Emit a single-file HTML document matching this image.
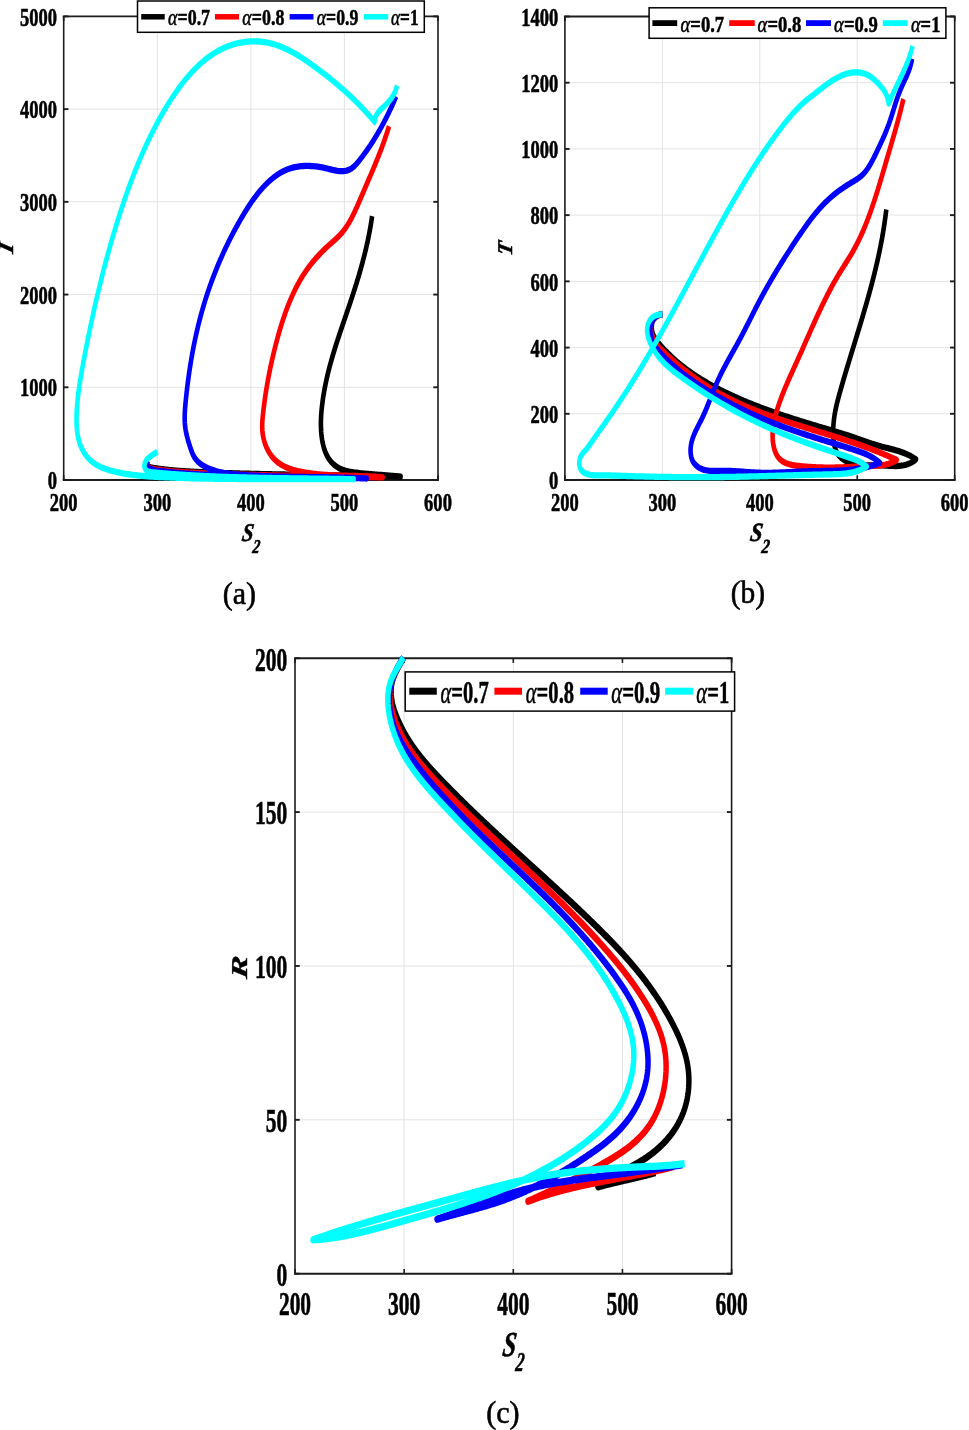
<!DOCTYPE html><html><head><meta charset="utf-8"><style>html,body{margin:0;padding:0;background:#fff;}svg{display:block;will-change:transform;}</style></head><body>
<svg width="969" height="1430" viewBox="0 0 969 1430">
<rect width="969" height="1430" fill="#fff"/>
<line x1="157.3" y1="16.4" x2="157.3" y2="480.0" stroke="#e3e3e3" stroke-width="1"/><line x1="250.9" y1="16.4" x2="250.9" y2="480.0" stroke="#e3e3e3" stroke-width="1"/><line x1="344.4" y1="16.4" x2="344.4" y2="480.0" stroke="#e3e3e3" stroke-width="1"/><line x1="63.7" y1="387.3" x2="438.0" y2="387.3" stroke="#e3e3e3" stroke-width="1"/><line x1="63.7" y1="294.6" x2="438.0" y2="294.6" stroke="#e3e3e3" stroke-width="1"/><line x1="63.7" y1="201.8" x2="438.0" y2="201.8" stroke="#e3e3e3" stroke-width="1"/><line x1="63.7" y1="109.1" x2="438.0" y2="109.1" stroke="#e3e3e3" stroke-width="1"/>
<line x1="63.70" y1="16.40" x2="438.00" y2="16.40" stroke="#1c1c1c" stroke-width="1.90" stroke-linecap="square"/><line x1="63.70" y1="480.00" x2="438.00" y2="480.00" stroke="#1c1c1c" stroke-width="1.90" stroke-linecap="square"/><line x1="63.70" y1="16.40" x2="63.70" y2="480.00" stroke="#1c1c1c" stroke-width="1.60"/><line x1="438.00" y1="16.40" x2="438.00" y2="480.00" stroke="#1c1c1c" stroke-width="1.60"/><line x1="63.70" y1="480.00" x2="63.70" y2="475.30" stroke="#1c1c1c" stroke-width="1.60"/><line x1="63.70" y1="16.40" x2="63.70" y2="21.10" stroke="#1c1c1c" stroke-width="1.60"/><line x1="157.28" y1="480.00" x2="157.28" y2="475.30" stroke="#1c1c1c" stroke-width="1.60"/><line x1="157.28" y1="16.40" x2="157.28" y2="21.10" stroke="#1c1c1c" stroke-width="1.60"/><line x1="250.85" y1="480.00" x2="250.85" y2="475.30" stroke="#1c1c1c" stroke-width="1.60"/><line x1="250.85" y1="16.40" x2="250.85" y2="21.10" stroke="#1c1c1c" stroke-width="1.60"/><line x1="344.43" y1="480.00" x2="344.43" y2="475.30" stroke="#1c1c1c" stroke-width="1.60"/><line x1="344.43" y1="16.40" x2="344.43" y2="21.10" stroke="#1c1c1c" stroke-width="1.60"/><line x1="438.00" y1="480.00" x2="438.00" y2="475.30" stroke="#1c1c1c" stroke-width="1.60"/><line x1="438.00" y1="16.40" x2="438.00" y2="21.10" stroke="#1c1c1c" stroke-width="1.60"/><line x1="63.70" y1="480.00" x2="68.40" y2="480.00" stroke="#1c1c1c" stroke-width="1.90"/><line x1="438.00" y1="480.00" x2="433.30" y2="480.00" stroke="#1c1c1c" stroke-width="1.90"/><line x1="63.70" y1="387.28" x2="68.40" y2="387.28" stroke="#1c1c1c" stroke-width="1.90"/><line x1="438.00" y1="387.28" x2="433.30" y2="387.28" stroke="#1c1c1c" stroke-width="1.90"/><line x1="63.70" y1="294.56" x2="68.40" y2="294.56" stroke="#1c1c1c" stroke-width="1.90"/><line x1="438.00" y1="294.56" x2="433.30" y2="294.56" stroke="#1c1c1c" stroke-width="1.90"/><line x1="63.70" y1="201.84" x2="68.40" y2="201.84" stroke="#1c1c1c" stroke-width="1.90"/><line x1="438.00" y1="201.84" x2="433.30" y2="201.84" stroke="#1c1c1c" stroke-width="1.90"/><line x1="63.70" y1="109.12" x2="68.40" y2="109.12" stroke="#1c1c1c" stroke-width="1.90"/><line x1="438.00" y1="109.12" x2="433.30" y2="109.12" stroke="#1c1c1c" stroke-width="1.90"/><line x1="63.70" y1="16.40" x2="68.40" y2="16.40" stroke="#1c1c1c" stroke-width="1.90"/><line x1="438.00" y1="16.40" x2="433.30" y2="16.40" stroke="#1c1c1c" stroke-width="1.90"/>
<g>
<path transform="scale(0.7300,1)" d="M203.03,460.19L201.55,461.70L200.52,463.50L200.69,465.05L202.17,466.11L204.36,466.82L206.63,467.31L208.74,467.68L210.72,467.96L212.66,468.19L214.60,468.40L216.58,468.61L218.57,468.82L220.58,469.02L222.58,469.22L224.59,469.40L226.60,469.58L228.60,469.75L230.61,469.91L232.62,470.06L234.63,470.21L236.64,470.35L238.65,470.48L240.66,470.61L242.67,470.73L244.68,470.85L246.69,470.96L248.70,471.06L250.72,471.16L252.73,471.26L254.74,471.35L256.76,471.44L258.77,471.52L260.78,471.60L262.80,471.68L264.81,471.76L266.82,471.83L268.84,471.90L270.85,471.97L272.87,472.04L274.88,472.10L276.89,472.17L278.91,472.23L280.92,472.30L282.94,472.36L284.95,472.42L286.96,472.48L288.98,472.54L290.99,472.60L293.01,472.65L295.02,472.71L297.03,472.77L299.05,472.82L301.06,472.87L303.08,472.93L305.09,472.98L307.10,473.03L309.12,473.08L311.13,473.13L313.15,473.18L315.16,473.22L317.17,473.27L319.19,473.32L321.20,473.36L323.22,473.41L325.23,473.45L327.24,473.49L329.26,473.54L331.27,473.58L333.29,473.62L335.30,473.66L337.31,473.70L339.33,473.74L341.34,473.77L343.36,473.81L345.37,473.85L347.38,473.88L349.40,473.92L351.41,473.95L353.42,473.99L355.44,474.02L357.45,474.06L359.47,474.09L361.48,474.12L363.49,474.15L365.51,474.18L367.52,474.21L369.53,474.24L371.55,474.27L373.56,474.30L375.58,474.33L377.59,474.36L379.60,474.39L381.62,474.42L383.63,474.44L385.64,474.47L387.66,474.50L389.67,474.52L391.69,474.55L393.70,474.58L395.71,474.60L397.73,474.63L399.74,474.65L401.75,474.67L403.77,474.70L405.78,474.72L407.80,474.75L409.81,474.77L411.82,474.79L413.84,474.82L415.85,474.84L417.86,474.86L419.88,474.88L421.89,474.91L423.91,474.93L425.92,474.95L427.93,474.97L429.95,475.00L431.96,475.02L433.97,475.04L435.99,475.06L438.00,475.08L440.02,475.10L442.03,475.13L444.04,475.15L446.06,475.17L448.07,475.19L450.08,475.21L452.10,475.24L454.11,475.26L456.13,475.28L458.14,475.30L460.15,475.32L462.17,475.35L464.18,475.37L466.19,475.39L468.21,475.41L470.22,475.44L472.24,475.46L474.25,475.48L476.26,475.51L478.28,475.53L480.29,475.55L482.31,475.58L484.32,475.60L486.33,475.63L488.35,475.65L490.36,475.68L492.37,475.70L494.39,475.73L496.40,475.76L498.42,475.78L500.43,475.81L502.44,475.84L504.46,475.87L506.47,475.89L508.49,475.92L510.50,475.95L512.51,475.98L514.53,476.01L516.54,476.04L518.56,476.07L520.57,476.10L522.58,476.13L524.60,476.17L526.61,476.20L528.63,476.23L530.64,476.27L532.65,476.30L534.67,476.34L536.68,476.37L538.70,476.41L540.71,476.45L542.72,476.48L544.74,476.52L546.75,476.56L548.77,476.60L546.72,476.46L544.68,476.31L542.65,476.18L540.62,476.05L538.61,475.92L536.59,475.80L534.59,475.68L532.59,475.57L530.59,475.46L528.59,475.35L526.60,475.24L524.61,475.13L522.62,475.02L520.63,474.92L518.65,474.81L516.66,474.70L514.67,474.59L512.67,474.47L510.68,474.36L508.68,474.24L506.68,474.12L504.67,473.99L502.66,473.86L500.64,473.72L498.61,473.57L496.58,473.42L494.54,473.27L492.49,473.10L490.43,472.93L488.36,472.75L486.28,472.55L484.20,472.34L482.12,472.11L480.04,471.85L477.97,471.55L475.91,471.21L473.86,470.82L471.84,470.38L469.84,469.88L467.87,469.31L465.94,468.67L464.04,467.95L462.18,467.15L460.37,466.27L458.61,465.30L456.92,464.25L455.29,463.13L453.74,461.92L452.27,460.62L450.88,459.25L449.58,457.80L448.38,456.27L447.27,454.66L446.24,452.99L445.30,451.26L444.44,449.48L443.66,447.64L442.96,445.76L442.33,443.85L441.77,441.90L441.29,439.92L440.87,437.92L440.51,435.91L440.22,433.88L439.99,431.85L439.81,429.82L439.69,427.78L439.62,425.74L439.59,423.70L439.62,421.66L439.69,419.62L439.80,417.58L439.95,415.54L440.14,413.51L440.36,411.48L440.62,409.45L440.90,407.43L441.21,405.42L441.55,403.41L441.90,401.41L442.28,399.42L442.68,397.43L443.11,395.45L443.55,393.48L444.01,391.52L444.49,389.56L445.00,387.61L445.52,385.66L446.05,383.72L446.61,381.79L447.18,379.86L447.77,377.94L448.37,376.02L449.00,374.11L449.63,372.21L450.28,370.31L450.95,368.41L451.62,366.52L452.31,364.63L453.02,362.75L453.73,360.87L454.46,358.99L455.20,357.12L455.95,355.25L456.71,353.39L457.48,351.53L458.26,349.67L459.04,347.81L459.84,345.96L460.64,344.11L461.45,342.26L462.27,340.42L463.09,338.57L463.92,336.73L464.75,334.89L465.59,333.05L466.43,331.22L467.28,329.38L468.13,327.55L468.98,325.71L469.84,323.88L470.69,322.05L471.55,320.22L472.41,318.39L473.27,316.55L474.13,314.72L474.99,312.89L475.84,311.06L476.70,309.23L477.55,307.39L478.40,305.56L479.25,303.72L480.09,301.89L480.93,300.05L481.77,298.21L482.60,296.37L483.42,294.52L484.24,292.68L485.06,290.83L485.87,288.98L486.67,287.13L487.47,285.28L488.26,283.42L489.04,281.57L489.82,279.71L490.59,277.84L491.35,275.98L492.10,274.11L492.85,272.24L493.59,270.36L494.32,268.49L495.04,266.60L495.75,264.72L496.45,262.83L497.14,260.94L497.82,259.04L498.49,257.15L499.15,255.24L499.80,253.34L500.44,251.42L501.07,249.51L501.68,247.59L502.29,245.66L502.88,243.74L503.46,241.80L504.02,239.86L504.58,237.92L505.12,235.97L505.64,234.02L506.15,232.06L506.65,230.10L507.14,228.13L507.61,226.16L508.06,224.18L508.50,222.19L508.92,220.20L509.33,218.20L509.72,216.20" fill="none" stroke="#000000" stroke-width="6.30" stroke-linejoin="round" stroke-linecap="butt"/>
<path transform="scale(0.7300,1)" d="M203.03,460.39L201.45,461.79L200.34,463.59L200.25,465.26L201.44,466.49L203.45,467.34L205.72,467.95L207.87,468.42L209.90,468.78L211.86,469.07L213.80,469.31L215.76,469.53L217.75,469.74L219.76,469.94L221.76,470.14L223.76,470.32L225.77,470.50L227.77,470.66L229.78,470.83L231.79,470.98L233.80,471.13L235.81,471.27L237.82,471.40L239.83,471.53L241.84,471.66L243.86,471.77L245.87,471.89L247.88,472.00L249.90,472.10L251.91,472.20L253.93,472.29L255.95,472.38L257.96,472.47L259.98,472.55L262.00,472.64L264.01,472.71L266.03,472.79L268.05,472.87L270.07,472.94L272.08,473.01L274.10,473.08L276.12,473.15L278.14,473.21L280.15,473.28L282.17,473.34L284.19,473.41L286.21,473.47L288.22,473.53L290.24,473.59L292.26,473.65L294.27,473.71L296.29,473.77L298.31,473.83L300.33,473.88L302.34,473.94L304.36,473.99L306.38,474.05L308.39,474.10L310.41,474.15L312.43,474.20L314.44,474.25L316.46,474.30L318.48,474.35L320.49,474.40L322.51,474.45L324.53,474.49L326.54,474.54L328.56,474.58L330.58,474.62L332.59,474.67L334.61,474.71L336.62,474.75L338.64,474.79L340.66,474.83L342.67,474.87L344.69,474.91L346.70,474.95L348.72,474.99L350.74,475.03L352.75,475.06L354.77,475.10L356.78,475.13L358.80,475.17L360.82,475.20L362.83,475.24L364.85,475.27L366.86,475.30L368.88,475.33L370.90,475.37L372.91,475.40L374.93,475.43L376.94,475.46L378.96,475.49L380.97,475.52L382.99,475.55L385.01,475.57L387.02,475.60L389.04,475.63L391.05,475.66L393.07,475.69L395.08,475.71L397.10,475.74L399.11,475.76L401.13,475.79L403.15,475.82L405.16,475.84L407.18,475.87L409.19,475.89L411.21,475.92L413.22,475.94L415.24,475.96L417.26,475.99L419.27,476.01L421.29,476.04L423.30,476.06L425.32,476.08L427.33,476.11L429.35,476.13L431.36,476.15L433.38,476.17L435.40,476.20L437.41,476.22L439.43,476.24L441.44,476.26L443.46,476.29L445.47,476.31L447.49,476.33L449.51,476.35L451.52,476.38L453.54,476.40L455.55,476.42L457.57,476.44L459.59,476.47L461.60,476.49L463.62,476.51L465.63,476.54L467.65,476.56L469.66,476.58L471.68,476.60L473.70,476.63L475.71,476.65L477.73,476.68L479.75,476.70L481.76,476.72L483.78,476.75L485.79,476.77L487.81,476.80L489.83,476.82L491.84,476.85L493.86,476.87L495.88,476.90L497.89,476.93L499.91,476.95L501.92,476.98L503.94,477.01L505.96,477.03L507.97,477.06L509.99,477.09L512.01,477.12L514.03,477.15L516.04,477.18L518.06,477.21L520.08,477.24L522.09,477.27L524.11,477.30L522.03,477.17L519.95,477.04L517.88,476.93L515.82,476.82L513.76,476.72L511.72,476.63L509.68,476.55L507.64,476.47L505.61,476.40L503.59,476.33L501.57,476.27L499.56,476.22L497.55,476.17L495.55,476.12L493.55,476.08L491.55,476.04L489.56,476.00L487.57,475.96L485.59,475.93L483.60,475.89L481.62,475.86L479.65,475.83L477.67,475.80L475.69,475.77L473.72,475.73L471.75,475.70L469.77,475.66L467.80,475.62L465.83,475.58L463.86,475.53L461.89,475.48L459.91,475.43L457.94,475.37L455.96,475.31L453.98,475.24L452.00,475.16L450.02,475.08L448.03,474.99L446.04,474.89L444.05,474.79L442.06,474.68L440.06,474.56L438.06,474.43L436.05,474.29L434.03,474.14L432.02,473.97L429.99,473.80L427.97,473.62L425.93,473.42L423.89,473.22L421.84,472.99L419.79,472.76L417.73,472.51L415.66,472.25L413.58,471.97L411.51,471.67L409.44,471.35L407.37,471.00L405.31,470.63L403.25,470.23L401.21,469.79L399.19,469.33L397.18,468.82L395.20,468.28L393.23,467.69L391.30,467.06L389.39,466.38L387.51,465.66L385.67,464.88L383.87,464.05L382.10,463.16L380.38,462.21L378.70,461.20L377.07,460.13L375.50,458.99L373.97,457.78L372.51,456.50L371.10,455.14L369.75,453.71L368.47,452.21L367.26,450.64L366.12,449.01L365.05,447.32L364.06,445.58L363.15,443.79L362.33,441.95L361.59,440.08L360.95,438.17L360.39,436.23L359.94,434.27L359.58,432.29L359.33,430.29L359.18,428.28L359.13,426.27L359.18,424.24L359.30,422.22L359.48,420.19L359.71,418.17L359.98,416.15L360.27,414.13L360.58,412.11L360.89,410.10L361.22,408.10L361.56,406.10L361.91,404.11L362.27,402.12L362.64,400.13L363.02,398.15L363.41,396.18L363.81,394.21L364.23,392.24L364.65,390.28L365.09,388.32L365.53,386.36L365.99,384.41L366.46,382.46L366.93,380.52L367.42,378.58L367.92,376.64L368.43,374.70L368.95,372.77L369.48,370.84L370.02,368.91L370.57,366.99L371.13,365.06L371.70,363.14L372.29,361.22L372.88,359.31L373.48,357.39L374.09,355.48L374.71,353.57L375.34,351.66L375.99,349.75L376.64,347.84L377.30,345.93L377.97,344.03L378.65,342.12L379.34,340.22L380.05,338.32L380.76,336.43L381.49,334.53L382.22,332.64L382.97,330.76L383.74,328.87L384.51,327.00L385.30,325.13L386.10,323.26L386.91,321.40L387.74,319.55L388.59,317.71L389.44,315.87L390.32,314.04L391.20,312.22L392.11,310.41L393.03,308.61L393.96,306.82L394.91,305.04L395.88,303.27L396.87,301.51L397.87,299.76L398.89,298.03L399.93,296.31L400.99,294.60L402.06,292.90L403.16,291.22L404.27,289.55L405.41,287.90L406.56,286.26L407.73,284.64L408.93,283.03L410.14,281.44L411.38,279.87L412.64,278.32L413.92,276.78L415.22,275.26L416.55,273.77L417.89,272.29L419.26,270.82L420.65,269.38L422.07,267.96L423.50,266.55L424.95,265.17L426.42,263.80L427.91,262.44L429.42,261.11L430.95,259.79L432.49,258.49L434.05,257.21L435.63,255.94L437.23,254.69L438.83,253.46L440.46,252.24L442.09,251.04L443.74,249.85L445.41,248.68L447.08,247.52L448.77,246.38L450.47,245.25L452.18,244.13L453.90,243.03L455.61,241.93L457.32,240.82L459.02,239.71L460.70,238.58L462.37,237.43L464.00,236.26L465.60,235.05L467.16,233.81L468.68,232.52L470.16,231.20L471.60,229.83L473.00,228.42L474.36,226.98L475.68,225.50L476.97,223.99L478.23,222.45L479.46,220.89L480.67,219.29L481.85,217.67L483.00,216.03L484.14,214.37L485.25,212.69L486.35,211.00L487.43,209.29L488.50,207.57L489.55,205.84L490.60,204.10L491.63,202.35L492.67,200.60L493.69,198.85L494.72,197.09L495.74,195.34L496.77,193.59L497.80,191.85L498.83,190.11L499.86,188.37L500.89,186.63L501.91,184.89L502.94,183.16L503.97,181.42L504.99,179.69L506.01,177.96L507.03,176.23L508.05,174.49L509.06,172.76L510.07,171.02L511.08,169.29L512.08,167.55L513.08,165.81L514.07,164.07L515.05,162.32L516.03,160.57L517.00,158.82L517.96,157.07L518.92,155.31L519.87,153.54L520.81,151.77L521.74,150.00L522.66,148.22L523.58,146.43L524.48,144.64L525.37,142.84L526.26,141.04L527.13,139.22L527.99,137.40L528.83,135.57L529.67,133.74L530.49,131.89L531.30,130.04L532.09,128.17L532.88,126.30" fill="none" stroke="#ff0000" stroke-width="6.30" stroke-linejoin="round" stroke-linecap="butt"/>
<path transform="scale(0.7300,1)" d="M203.03,460.59L201.43,461.91L200.20,463.70L199.87,465.46L200.79,466.82L202.62,467.80L204.86,468.52L207.06,469.12L209.12,469.61L211.08,470.03L213.02,470.36L214.98,470.63L216.98,470.83L218.99,471.01L221.01,471.18L223.02,471.34L225.04,471.51L227.06,471.66L229.08,471.82L231.10,471.97L233.11,472.12L235.13,472.26L237.15,472.41L239.17,472.55L241.19,472.68L243.21,472.81L245.23,472.94L247.25,473.07L249.27,473.19L251.29,473.31L253.31,473.43L255.33,473.54L257.35,473.66L259.37,473.77L261.39,473.87L263.41,473.98L265.43,474.08L267.45,474.17L269.47,474.27L271.49,474.36L273.51,474.45L275.54,474.54L277.56,474.63L279.58,474.71L281.60,474.79L283.62,474.87L285.64,474.95L287.67,475.02L289.69,475.09L291.71,475.16L293.73,475.23L295.76,475.30L297.78,475.36L299.80,475.42L301.82,475.48L303.85,475.54L305.87,475.60L307.89,475.65L309.92,475.71L311.94,475.76L313.96,475.81L315.99,475.85L318.01,475.90L320.03,475.94L322.06,475.99L324.08,476.03L326.11,476.07L328.13,476.10L330.15,476.14L332.18,476.18L334.20,476.21L336.23,476.24L338.25,476.28L340.27,476.31L342.30,476.34L344.32,476.37L346.35,476.39L348.37,476.42L350.40,476.44L352.42,476.47L354.45,476.49L356.47,476.52L358.49,476.54L360.52,476.56L362.54,476.58L364.57,476.60L366.59,476.62L368.62,476.64L370.64,476.65L372.67,476.67L374.69,476.69L376.72,476.70L378.74,476.72L380.77,476.74L382.79,476.75L384.82,476.77L386.84,476.78L388.87,476.80L390.89,476.81L392.92,476.82L394.94,476.84L396.97,476.85L398.99,476.87L401.02,476.88L403.04,476.89L405.07,476.91L407.09,476.92L409.12,476.94L411.14,476.95L413.17,476.97L415.19,476.98L417.21,477.00L419.24,477.01L421.26,477.03L423.29,477.05L425.31,477.07L427.34,477.08L429.36,477.10L431.39,477.12L433.41,477.14L435.43,477.16L437.46,477.18L439.48,477.21L441.51,477.23L443.53,477.25L445.55,477.28L447.58,477.30L449.60,477.33L451.63,477.36L453.65,477.39L455.67,477.42L457.70,477.45L459.72,477.48L461.74,477.51L463.77,477.55L465.79,477.58L467.81,477.62L469.84,477.66L471.86,477.70L473.88,477.74L475.91,477.78L477.93,477.83L479.95,477.88L481.97,477.92L484.00,477.97L486.02,478.03L488.04,478.08L490.06,478.13L492.08,478.19L494.11,478.25L496.13,478.31L498.15,478.37L500.17,478.44L502.19,478.50L500.18,478.43L498.17,478.36L496.16,478.29L494.14,478.23L492.13,478.17L490.12,478.11L488.11,478.05L486.10,478.00L484.09,477.94L482.08,477.89L480.08,477.85L478.07,477.80L476.06,477.76L474.05,477.72L472.05,477.68L470.04,477.64L468.03,477.60L466.03,477.57L464.02,477.53L462.02,477.50L460.01,477.47L458.01,477.44L456.00,477.41L454.00,477.39L451.99,477.36L449.99,477.33L447.99,477.31L445.98,477.29L443.98,477.27L441.98,477.24L439.97,477.22L437.97,477.20L435.97,477.18L433.97,477.16L431.96,477.14L429.96,477.12L427.96,477.10L425.96,477.09L423.96,477.07L421.95,477.05L419.95,477.03L417.95,477.01L415.95,476.99L413.95,476.97L411.94,476.95L409.94,476.93L407.94,476.91L405.94,476.89L403.94,476.86L401.93,476.84L399.93,476.81L397.93,476.79L395.93,476.76L393.92,476.73L391.92,476.70L389.92,476.67L387.92,476.64L385.91,476.61L383.91,476.57L381.91,476.54L379.90,476.50L377.90,476.46L375.90,476.42L373.89,476.38L371.89,476.33L369.88,476.28L367.88,476.23L365.87,476.18L363.87,476.13L361.86,476.07L359.86,476.01L357.85,475.95L355.84,475.89L353.84,475.82L351.83,475.75L349.82,475.68L347.81,475.60L345.81,475.53L343.80,475.44L341.79,475.36L339.78,475.27L337.77,475.18L335.76,475.09L333.75,474.99L331.73,474.89L329.72,474.79L327.71,474.68L325.70,474.57L323.68,474.45L321.67,474.32L319.66,474.18L317.65,474.03L315.65,473.87L313.64,473.69L311.64,473.49L309.64,473.28L307.64,473.04L305.65,472.78L303.66,472.50L301.68,472.19L299.70,471.85L297.73,471.48L295.77,471.08L293.81,470.64L291.86,470.17L289.91,469.66L287.98,469.12L286.05,468.53L284.13,467.90L282.22,467.22L280.33,466.49L278.46,465.71L276.64,464.86L274.86,463.95L273.13,462.95L271.48,461.87L269.91,460.71L268.42,459.44L267.04,458.07L265.76,456.59L264.61,455.00L263.56,453.30L262.60,451.52L261.70,449.69L260.83,447.83L259.98,445.97L259.16,444.09L258.37,442.21L257.61,440.32L256.89,438.42L256.20,436.53L255.56,434.62L254.98,432.72L254.47,430.80L254.03,428.87L253.67,426.93L253.40,424.99L253.20,423.03L253.07,421.06L253.00,419.08L252.99,417.10L253.04,415.11L253.14,413.12L253.27,411.12L253.45,409.12L253.65,407.11L253.89,405.11L254.14,403.10L254.41,401.09L254.69,399.09L254.98,397.08L255.27,395.08L255.58,393.08L255.89,391.08L256.21,389.08L256.54,387.08L256.87,385.09L257.22,383.10L257.57,381.10L257.93,379.12L258.30,377.13L258.68,375.15L259.07,373.16L259.47,371.19L259.87,369.21L260.29,367.23L260.71,365.26L261.14,363.30L261.58,361.33L262.03,359.37L262.49,357.41L262.96,355.45L263.44,353.50L263.93,351.55L264.43,349.60L264.94,347.65L265.46,345.71L265.99,343.78L266.53,341.84L267.08,339.92L267.63,337.99L268.20,336.07L268.78,334.15L269.37,332.24L269.97,330.33L270.59,328.42L271.21,326.52L271.84,324.62L272.49,322.73L273.14,320.84L273.81,318.96L274.48,317.08L275.17,315.20L275.87,313.33L276.58,311.47L277.30,309.61L278.04,307.75L278.78,305.90L279.54,304.05L280.30,302.21L281.08,300.37L281.87,298.54L282.67,296.72L283.48,294.89L284.30,293.08L285.13,291.26L285.97,289.46L286.83,287.65L287.69,285.85L288.56,284.06L289.45,282.27L290.35,280.49L291.25,278.71L292.17,276.94L293.10,275.17L294.04,273.41L294.98,271.65L295.94,269.89L296.91,268.14L297.89,266.40L298.88,264.66L299.88,262.93L300.90,261.20L301.92,259.48L302.95,257.76L303.99,256.04L305.04,254.34L306.11,252.63L307.18,250.93L308.26,249.24L309.35,247.55L310.46,245.87L311.57,244.19L312.69,242.52L313.82,240.85L314.97,239.19L316.12,237.53L317.28,235.88L318.45,234.23L319.63,232.59L320.83,230.96L322.03,229.33L323.24,227.70L324.46,226.08L325.69,224.47L326.93,222.86L328.18,221.25L329.44,219.65L330.71,218.06L331.99,216.47L333.28,214.89L334.57,213.32L335.89,211.76L337.21,210.22L338.54,208.68L339.88,207.15L341.24,205.64L342.61,204.14L343.99,202.66L345.38,201.19L346.79,199.74L348.21,198.31L349.64,196.90L351.09,195.50L352.55,194.13L354.02,192.78L355.51,191.45L357.01,190.15L358.53,188.87L360.07,187.61L361.62,186.38L363.18,185.18L364.76,184.01L366.36,182.86L367.98,181.74L369.61,180.66L371.25,179.61L372.92,178.59L374.60,177.60L376.30,176.65L378.02,175.73L379.76,174.85L381.52,174.01L383.29,173.20L385.09,172.43L386.90,171.71L388.74,171.02L390.59,170.38L392.46,169.78L394.36,169.22L396.27,168.71L398.21,168.24L400.17,167.82L402.14,167.44L404.14,167.11L406.15,166.82L408.18,166.57L410.22,166.37L412.27,166.20L414.33,166.07L416.40,165.98L418.47,165.93L420.55,165.91L422.64,165.93L424.72,165.98L426.80,166.06L428.88,166.17L430.96,166.31L433.03,166.48L435.10,166.68L437.16,166.90L439.20,167.15L441.24,167.42L443.26,167.72L445.26,168.03L447.25,168.37L449.22,168.73L451.17,169.10L453.11,169.46L455.05,169.82L456.98,170.16L458.91,170.46L460.85,170.73L462.80,170.95L464.76,171.10L466.74,171.18L468.74,171.18L470.74,171.09L472.75,170.90L474.73,170.60L476.69,170.18L478.60,169.62L480.45,168.92L482.24,168.08L483.95,167.10L485.61,166.00L487.21,164.81L488.78,163.53L490.31,162.21L491.81,160.84L493.30,159.46L494.78,158.06L496.24,156.66L497.69,155.25L499.13,153.82L500.55,152.39L501.96,150.94L503.35,149.49L504.74,148.02L506.10,146.55L507.46,145.07L508.81,143.57L510.14,142.07L511.46,140.56L512.76,139.04L514.06,137.50L515.34,135.96L516.61,134.41L517.87,132.86L519.11,131.29L520.35,129.71L521.57,128.13L522.78,126.53L523.97,124.93L525.16,123.32L526.33,121.69L527.50,120.07L528.65,118.43L529.79,116.78L530.92,115.13L532.03,113.46L533.14,111.79L534.23,110.12L535.32,108.43L536.39,106.73L537.45,105.03L538.50,103.32L539.54,101.60L540.57,99.88L541.59,98.14L542.60,96.40" fill="none" stroke="#0000ff" stroke-width="6.30" stroke-linejoin="round" stroke-linecap="butt"/>
<path transform="scale(0.7300,1)" d="M215.62,451.30L214.11,452.34L212.42,453.28L210.60,454.17L208.71,455.05L206.79,455.96L204.91,456.95L203.11,458.06L201.45,459.33L199.98,460.80L198.77,462.51L197.96,464.40L197.75,466.33L198.33,468.13L199.55,469.68L201.19,470.84L203.08,471.57L205.13,471.98L207.26,472.21L209.38,472.36L211.47,472.51L213.52,472.66L215.55,472.80L217.56,472.93L219.56,473.06L221.57,473.19L223.57,473.32L225.58,473.44L227.58,473.56L229.59,473.68L231.60,473.80L233.60,473.91L235.61,474.03L237.62,474.14L239.63,474.25L241.64,474.35L243.65,474.46L245.66,474.56L247.68,474.66L249.69,474.76L251.70,474.86L253.71,474.96L255.73,475.05L257.74,475.14L259.76,475.23L261.77,475.32L263.79,475.40L265.80,475.49L267.82,475.57L269.84,475.65L271.85,475.73L273.87,475.81L275.89,475.88L277.91,475.96L279.93,476.03L281.95,476.10L283.97,476.17L285.99,476.24L288.01,476.31L290.03,476.37L292.05,476.43L294.07,476.50L296.09,476.56L298.12,476.62L300.14,476.67L302.16,476.73L304.18,476.79L306.21,476.84L308.23,476.89L310.25,476.94L312.28,476.99L314.30,477.04L316.33,477.09L318.35,477.14L320.38,477.18L322.40,477.23L324.43,477.27L326.45,477.31L328.48,477.35L330.51,477.39L332.53,477.43L334.56,477.47L336.59,477.51L338.61,477.54L340.64,477.58L342.67,477.61L344.69,477.64L346.72,477.68L348.75,477.71L350.78,477.74L352.80,477.77L354.83,477.80L356.86,477.83L358.89,477.86L360.91,477.88L362.94,477.91L364.97,477.94L367.00,477.96L369.03,477.99L371.05,478.01L373.08,478.04L375.11,478.06L377.14,478.08L379.16,478.10L381.19,478.13L383.22,478.15L385.25,478.17L387.28,478.19L389.30,478.21L391.33,478.23L393.36,478.25L395.39,478.27L397.41,478.29L399.44,478.31L401.47,478.33L403.50,478.34L405.52,478.36L407.55,478.38L409.58,478.40L411.60,478.42L413.63,478.44L415.65,478.45L417.68,478.47L419.71,478.49L421.73,478.51L423.76,478.53L425.78,478.54L427.81,478.56L429.83,478.58L431.86,478.60L433.88,478.62L435.90,478.64L437.93,478.65L439.95,478.67L441.97,478.69L444.00,478.71L446.02,478.73L448.04,478.75L450.06,478.77L452.09,478.79L454.11,478.82L456.13,478.84L458.15,478.86L460.17,478.88L462.19,478.91L464.21,478.93L466.23,478.95L468.25,478.98L470.27,479.00L472.28,479.03L474.30,479.06L476.32,479.08L478.33,479.11L480.35,479.14L482.37,479.17L484.38,479.20L482.39,479.18L480.39,479.17L478.40,479.15L476.40,479.14L474.41,479.12L472.41,479.11L470.41,479.10L468.42,479.09L466.42,479.08L464.42,479.07L462.42,479.06L460.42,479.05L458.42,479.04L456.42,479.04L454.42,479.03L452.42,479.02L450.42,479.02L448.42,479.01L446.42,479.01L444.41,479.01L442.41,479.00L440.41,479.00L438.41,479.00L436.40,479.00L434.40,479.00L432.39,478.99L430.39,478.99L428.38,478.99L426.38,478.99L424.37,478.99L422.37,478.99L420.36,479.00L418.36,479.00L416.35,479.00L414.34,479.00L412.34,479.00L410.33,479.00L408.32,479.01L406.31,479.01L404.31,479.01L402.30,479.01L400.29,479.02L398.28,479.02L396.27,479.02L394.27,479.02L392.26,479.03L390.25,479.03L388.24,479.03L386.23,479.03L384.22,479.04L382.21,479.04L380.20,479.04L378.19,479.04L376.18,479.04L374.17,479.05L372.16,479.05L370.16,479.05L368.15,479.05L366.14,479.05L364.13,479.05L362.12,479.05L360.11,479.05L358.10,479.05L356.09,479.05L354.08,479.05L352.07,479.05L350.06,479.05L348.05,479.04L346.04,479.04L344.03,479.04L342.02,479.03L340.01,479.03L338.00,479.02L335.99,479.02L333.98,479.01L331.98,479.01L329.97,479.00L327.96,478.99L325.95,478.98L323.94,478.97L321.93,478.96L319.93,478.95L317.92,478.94L315.91,478.93L313.90,478.92L311.90,478.90L309.89,478.89L307.88,478.87L305.88,478.86L303.87,478.84L301.86,478.82L299.86,478.80L297.85,478.78L295.85,478.76L293.84,478.74L291.84,478.72L289.83,478.69L287.83,478.67L285.82,478.64L283.82,478.62L281.82,478.59L279.81,478.56L277.81,478.53L275.81,478.50L273.81,478.46L271.81,478.43L269.80,478.39L267.80,478.36L265.80,478.32L263.80,478.28L261.80,478.24L259.80,478.20L257.81,478.16L255.81,478.11L253.81,478.07L251.81,478.02L249.82,477.97L247.82,477.92L245.82,477.87L243.83,477.82L241.83,477.76L239.84,477.71L237.84,477.65L235.85,477.59L233.86,477.53L231.87,477.47L229.87,477.41L227.88,477.34L225.89,477.27L223.90,477.21L221.91,477.14L219.92,477.06L217.93,476.99L215.95,476.91L213.96,476.84L211.97,476.75L209.98,476.67L208.00,476.58L206.01,476.49L204.02,476.39L202.03,476.29L200.05,476.18L198.06,476.06L196.07,475.94L194.08,475.81L192.09,475.68L190.09,475.53L188.10,475.38L186.11,475.22L184.11,475.04L182.11,474.86L180.11,474.67L178.11,474.47L176.11,474.25L174.10,474.03L172.09,473.79L170.08,473.54L168.07,473.27L166.05,473.00L164.04,472.70L162.01,472.40L159.99,472.07L157.96,471.74L155.93,471.38L153.90,471.01L151.87,470.62L149.85,470.20L147.83,469.76L145.83,469.29L143.83,468.78L141.86,468.24L139.90,467.66L137.96,467.04L136.06,466.37L134.17,465.66L132.33,464.90L130.51,464.08L128.73,463.21L127.00,462.28L125.30,461.29L123.65,460.23L122.05,459.11L120.51,457.91L119.01,456.64L117.58,455.30L116.21,453.88L114.90,452.38L113.67,450.82L112.51,449.21L111.43,447.53L110.44,445.82L109.54,444.06L108.74,442.26L108.02,440.43L107.39,438.57L106.83,436.68L106.35,434.76L105.95,432.82L105.61,430.86L105.34,428.87L105.13,426.88L104.98,424.86L104.88,422.84L104.83,420.81L104.83,418.77L104.86,416.72L104.94,414.68L105.05,412.64L105.19,410.59L105.36,408.56L105.56,406.53L105.77,404.51L106.01,402.50L106.27,400.50L106.54,398.50L106.84,396.51L107.16,394.52L107.49,392.54L107.84,390.57L108.20,388.60L108.58,386.63L108.98,384.67L109.38,382.72L109.80,380.77L110.23,378.82L110.67,376.87L111.12,374.93L111.58,372.99L112.04,371.05L112.52,369.11L113.00,367.18L113.48,365.24L113.97,363.31L114.46,361.37L114.96,359.44L115.45,357.51L115.95,355.58L116.46,353.65L116.97,351.71L117.48,349.78L117.99,347.85L118.51,345.92L119.03,343.99L119.55,342.06L120.08,340.14L120.61,338.21L121.14,336.28L121.68,334.35L122.22,332.43L122.77,330.50L123.31,328.58L123.87,326.66L124.42,324.73L124.98,322.81L125.54,320.89L126.11,318.97L126.67,317.05L127.25,315.13L127.82,313.21L128.40,311.30L128.99,309.38L129.57,307.46L130.17,305.55L130.76,303.64L131.36,301.73L131.96,299.81L132.57,297.90L133.18,296.00L133.79,294.09L134.41,292.18L135.04,290.28L135.66,288.37L136.29,286.47L136.93,284.57L137.57,282.67L138.21,280.77L138.86,278.87L139.51,276.98L140.16,275.08L140.82,273.19L141.48,271.30L142.15,269.41L142.82,267.52L143.50,265.63L144.18,263.75L144.87,261.86L145.56,259.98L146.25,258.10L146.95,256.22L147.65,254.34L148.36,252.46L149.07,250.59L149.79,248.72L150.51,246.85L151.23,244.98L151.96,243.11L152.70,241.25L153.44,239.38L154.18,237.52L154.93,235.66L155.68,233.80L156.44,231.95L157.21,230.09L157.97,228.24L158.75,226.39L159.52,224.54L160.31,222.70L161.09,220.86L161.89,219.01L162.68,217.17L163.49,215.34L164.29,213.50L165.11,211.67L165.92,209.84L166.75,208.01L167.58,206.19L168.41,204.37L169.25,202.55L170.10,200.73L170.95,198.92L171.81,197.11L172.67,195.30L173.54,193.49L174.41,191.69L175.30,189.89L176.18,188.10L177.08,186.31L177.98,184.52L178.89,182.74L179.80,180.95L180.72,179.18L181.65,177.40L182.58,175.63L183.52,173.87L184.47,172.10L185.42,170.35L186.39,168.59L187.35,166.84L188.33,165.09L189.31,163.35L190.31,161.61L191.30,159.88L192.31,158.15L193.32,156.43L194.35,154.71L195.37,152.99L196.41,151.28L197.46,149.58L198.51,147.88L199.57,146.18L200.64,144.49L201.72,142.80L202.81,141.12L203.90,139.45L205.01,137.78L206.12,136.11L207.24,134.45L208.37,132.80L209.51,131.15L210.65,129.51L211.81,127.87L212.98,126.24L214.15,124.61L215.33,122.99L216.53,121.38L217.73,119.77L218.94,118.17L220.16,116.57L221.40,114.99L222.64,113.40L223.89,111.83L225.15,110.26L226.42,108.69L227.70,107.14L228.99,105.59L230.29,104.05L231.60,102.51L232.92,100.99L234.26,99.48L235.60,97.97L236.95,96.48L238.32,95.00L239.69,93.52L241.08,92.06L242.48,90.61L243.88,89.18L245.30,87.75L246.73,86.34L248.18,84.95L249.63,83.56L251.10,82.20L252.57,80.84L254.06,79.50L255.56,78.18L257.07,76.88L258.60,75.59L260.13,74.32L261.68,73.06L263.24,71.82L264.82,70.61L266.40,69.41L268.00,68.23L269.61,67.07L271.23,65.93L272.87,64.81L274.52,63.71L276.18,62.63L277.86,61.57L279.55,60.54L281.25,59.53L282.96,58.54L284.69,57.58L286.43,56.64L288.19,55.72L289.96,54.83L291.74,53.97L293.53,53.13L295.35,52.32L297.17,51.53L299.01,50.77L300.86,50.04L302.73,49.33L304.61,48.66L306.51,48.01L308.42,47.39L310.34,46.80L312.28,46.24L314.23,45.71L316.19,45.21L318.17,44.74L320.15,44.30L322.14,43.89L324.14,43.51L326.15,43.16L328.17,42.85L330.19,42.56L332.22,42.30L334.25,42.07L336.29,41.87L338.32,41.71L340.36,41.57L342.40,41.47L344.45,41.40L346.49,41.36L348.52,41.35L350.56,41.37L352.59,41.42L354.62,41.51L356.65,41.62L358.66,41.77L360.68,41.95L362.68,42.17L364.68,42.41L366.66,42.69L368.64,42.99L370.61,43.33L372.57,43.70L374.52,44.10L376.46,44.53L378.40,44.99L380.32,45.47L382.24,45.98L384.15,46.52L386.06,47.08L387.95,47.67L389.84,48.27L391.72,48.91L393.59,49.56L395.46,50.24L397.32,50.93L399.18,51.65L401.02,52.38L402.87,53.14L404.70,53.91L406.53,54.70L408.36,55.50L410.18,56.32L412.00,57.15L413.81,58.00L415.61,58.86L417.41,59.74L419.21,60.62L421.00,61.52L422.79,62.42L424.58,63.34L426.36,64.26L428.14,65.19L429.91,66.13L431.68,67.08L433.45,68.03L435.22,68.98L436.98,69.95L438.74,70.91L440.50,71.89L442.25,72.86L444.00,73.85L445.75,74.84L447.49,75.83L449.23,76.84L450.97,77.84L452.70,78.86L454.43,79.88L456.15,80.91L457.87,81.94L459.59,82.98L461.30,84.03L463.00,85.09L464.70,86.15L466.40,87.22L468.09,88.29L469.78,89.38L471.46,90.47L473.14,91.56L474.81,92.67L476.47,93.78L478.13,94.91L479.79,96.04L481.44,97.17L483.08,98.32L484.72,99.48L486.35,100.64L487.97,101.81L489.59,102.99L491.20,104.18L492.80,105.38L494.40,106.58L495.99,107.80L497.58,109.02L499.15,110.26L500.72,111.50L502.29,112.75L503.84,114.02L505.39,115.29L506.93,116.57L508.46,117.86L509.99,119.17L511.50,120.48L513.01,121.80L513.46,119.56L514.19,117.55L515.18,115.74L516.38,114.10L517.76,112.60L519.29,111.22L520.93,109.93L522.66,108.69L524.43,107.48L526.22,106.27L527.98,105.04L529.72,103.77L531.42,102.47L533.07,101.12L534.65,99.71L536.17,98.24L537.60,96.70L538.93,95.08L540.17,93.38L541.28,91.59L542.27,89.70L543.13,87.71L543.83,85.60" fill="none" stroke="#00ffff" stroke-width="6.30" stroke-linejoin="round" stroke-linecap="butt"/>
</g>
<text transform="translate(57.1,489.1) scale(0.735,1)" font-family="Liberation Serif" font-size="25.2" font-weight="bold" font-style="normal" text-anchor="end" fill="#000" stroke="#000" stroke-width="0.60">0</text>
<text transform="translate(57.1,396.4) scale(0.735,1)" font-family="Liberation Serif" font-size="25.2" font-weight="bold" font-style="normal" text-anchor="end" fill="#000" stroke="#000" stroke-width="0.60">1000</text>
<text transform="translate(57.1,303.7) scale(0.735,1)" font-family="Liberation Serif" font-size="25.2" font-weight="bold" font-style="normal" text-anchor="end" fill="#000" stroke="#000" stroke-width="0.60">2000</text>
<text transform="translate(57.1,210.9) scale(0.735,1)" font-family="Liberation Serif" font-size="25.2" font-weight="bold" font-style="normal" text-anchor="end" fill="#000" stroke="#000" stroke-width="0.60">3000</text>
<text transform="translate(57.1,118.2) scale(0.735,1)" font-family="Liberation Serif" font-size="25.2" font-weight="bold" font-style="normal" text-anchor="end" fill="#000" stroke="#000" stroke-width="0.60">4000</text>
<text transform="translate(57.1,25.5) scale(0.735,1)" font-family="Liberation Serif" font-size="25.2" font-weight="bold" font-style="normal" text-anchor="end" fill="#000" stroke="#000" stroke-width="0.60">5000</text>
<text transform="translate(63.7,510.9) scale(0.735,1)" font-family="Liberation Serif" font-size="25.2" font-weight="bold" font-style="normal" text-anchor="middle" fill="#000" stroke="#000" stroke-width="0.60">200</text>
<text transform="translate(157.3,510.9) scale(0.735,1)" font-family="Liberation Serif" font-size="25.2" font-weight="bold" font-style="normal" text-anchor="middle" fill="#000" stroke="#000" stroke-width="0.60">300</text>
<text transform="translate(250.9,510.9) scale(0.735,1)" font-family="Liberation Serif" font-size="25.2" font-weight="bold" font-style="normal" text-anchor="middle" fill="#000" stroke="#000" stroke-width="0.60">400</text>
<text transform="translate(344.4,510.9) scale(0.735,1)" font-family="Liberation Serif" font-size="25.2" font-weight="bold" font-style="normal" text-anchor="middle" fill="#000" stroke="#000" stroke-width="0.60">500</text>
<text transform="translate(438.0,510.9) scale(0.735,1)" font-family="Liberation Serif" font-size="25.2" font-weight="bold" font-style="normal" text-anchor="middle" fill="#000" stroke="#000" stroke-width="0.60">600</text>
<rect x="137.5" y="1.0" width="286.8" height="31.3" fill="#fff" stroke="#000" stroke-width="1.5"/>
<line x1="141.2" y1="16.8" x2="164.7" y2="16.8" stroke="#000000" stroke-width="5.5"/>
<text x="168.0" y="24.5" font-family="Liberation Serif" font-size="22.4" textLength="42.1" lengthAdjust="spacingAndGlyphs" stroke="#000" stroke-width="0.5"><tspan font-style="italic">&#945;</tspan><tspan font-weight="bold">=0.7</tspan></text>
<line x1="215.0" y1="16.8" x2="239.0" y2="16.8" stroke="#ff0000" stroke-width="5.5"/>
<text x="242.3" y="24.5" font-family="Liberation Serif" font-size="22.4" textLength="42.1" lengthAdjust="spacingAndGlyphs" stroke="#000" stroke-width="0.5"><tspan font-style="italic">&#945;</tspan><tspan font-weight="bold">=0.8</tspan></text>
<line x1="289.6" y1="16.8" x2="313.5" y2="16.8" stroke="#0000ff" stroke-width="5.5"/>
<text x="316.7" y="24.5" font-family="Liberation Serif" font-size="22.4" textLength="41.7" lengthAdjust="spacingAndGlyphs" stroke="#000" stroke-width="0.5"><tspan font-style="italic">&#945;</tspan><tspan font-weight="bold">=0.9</tspan></text>
<line x1="363.9" y1="16.8" x2="388.2" y2="16.8" stroke="#00ffff" stroke-width="5.5"/>
<text x="391.0" y="24.5" font-family="Liberation Serif" font-size="22.4" textLength="27.7" lengthAdjust="spacingAndGlyphs" stroke="#000" stroke-width="0.5"><tspan font-style="italic">&#945;</tspan><tspan font-weight="bold">=1</tspan></text>
<text transform="translate(241.3,541.3) scale(0.800,1) skewX(-10.0)" font-family="Liberation Serif" font-size="25.5" font-weight="bold" font-style="italic" text-anchor="start" fill="#000" stroke="#000" stroke-width="0.60">S</text>
<text transform="translate(252.1,552.8) scale(0.740,1) skewX(-10.0)" font-family="Liberation Serif" font-size="19.5" font-weight="bold" font-style="italic" text-anchor="start" fill="#000" stroke="#000" stroke-width="0.60">2</text>
<text transform="translate(222.7,603.7) scale(0.930,1)" font-family="Liberation Serif" font-size="32.3" font-weight="normal" font-style="normal" text-anchor="start" fill="#000" stroke="#000" stroke-width="0.60">(a)</text>
<text transform="translate(13.0,249.0) scale(0.810,1) rotate(-90) skewX(-10.0)" font-family="Liberation Serif" font-size="26.0" font-weight="bold" font-style="italic" text-anchor="middle" fill="#000" stroke="#000" stroke-width="0.60">I</text>
<line x1="662.4" y1="16.5" x2="662.4" y2="480.0" stroke="#e3e3e3" stroke-width="1"/><line x1="759.8" y1="16.5" x2="759.8" y2="480.0" stroke="#e3e3e3" stroke-width="1"/><line x1="857.2" y1="16.5" x2="857.2" y2="480.0" stroke="#e3e3e3" stroke-width="1"/><line x1="564.9" y1="413.8" x2="954.7" y2="413.8" stroke="#e3e3e3" stroke-width="1"/><line x1="564.9" y1="347.6" x2="954.7" y2="347.6" stroke="#e3e3e3" stroke-width="1"/><line x1="564.9" y1="281.4" x2="954.7" y2="281.4" stroke="#e3e3e3" stroke-width="1"/><line x1="564.9" y1="215.1" x2="954.7" y2="215.1" stroke="#e3e3e3" stroke-width="1"/><line x1="564.9" y1="148.9" x2="954.7" y2="148.9" stroke="#e3e3e3" stroke-width="1"/><line x1="564.9" y1="82.7" x2="954.7" y2="82.7" stroke="#e3e3e3" stroke-width="1"/>
<line x1="564.90" y1="16.50" x2="954.70" y2="16.50" stroke="#1c1c1c" stroke-width="1.90" stroke-linecap="square"/><line x1="564.90" y1="480.00" x2="954.70" y2="480.00" stroke="#1c1c1c" stroke-width="1.90" stroke-linecap="square"/><line x1="564.90" y1="16.50" x2="564.90" y2="480.00" stroke="#1c1c1c" stroke-width="1.60"/><line x1="954.70" y1="16.50" x2="954.70" y2="480.00" stroke="#1c1c1c" stroke-width="1.60"/><line x1="564.90" y1="480.00" x2="564.90" y2="475.30" stroke="#1c1c1c" stroke-width="1.60"/><line x1="564.90" y1="16.50" x2="564.90" y2="21.20" stroke="#1c1c1c" stroke-width="1.60"/><line x1="662.35" y1="480.00" x2="662.35" y2="475.30" stroke="#1c1c1c" stroke-width="1.60"/><line x1="662.35" y1="16.50" x2="662.35" y2="21.20" stroke="#1c1c1c" stroke-width="1.60"/><line x1="759.80" y1="480.00" x2="759.80" y2="475.30" stroke="#1c1c1c" stroke-width="1.60"/><line x1="759.80" y1="16.50" x2="759.80" y2="21.20" stroke="#1c1c1c" stroke-width="1.60"/><line x1="857.25" y1="480.00" x2="857.25" y2="475.30" stroke="#1c1c1c" stroke-width="1.60"/><line x1="857.25" y1="16.50" x2="857.25" y2="21.20" stroke="#1c1c1c" stroke-width="1.60"/><line x1="954.70" y1="480.00" x2="954.70" y2="475.30" stroke="#1c1c1c" stroke-width="1.60"/><line x1="954.70" y1="16.50" x2="954.70" y2="21.20" stroke="#1c1c1c" stroke-width="1.60"/><line x1="564.90" y1="480.00" x2="569.60" y2="480.00" stroke="#1c1c1c" stroke-width="1.90"/><line x1="954.70" y1="480.00" x2="950.00" y2="480.00" stroke="#1c1c1c" stroke-width="1.90"/><line x1="564.90" y1="413.79" x2="569.60" y2="413.79" stroke="#1c1c1c" stroke-width="1.90"/><line x1="954.70" y1="413.79" x2="950.00" y2="413.79" stroke="#1c1c1c" stroke-width="1.90"/><line x1="564.90" y1="347.57" x2="569.60" y2="347.57" stroke="#1c1c1c" stroke-width="1.90"/><line x1="954.70" y1="347.57" x2="950.00" y2="347.57" stroke="#1c1c1c" stroke-width="1.90"/><line x1="564.90" y1="281.36" x2="569.60" y2="281.36" stroke="#1c1c1c" stroke-width="1.90"/><line x1="954.70" y1="281.36" x2="950.00" y2="281.36" stroke="#1c1c1c" stroke-width="1.90"/><line x1="564.90" y1="215.14" x2="569.60" y2="215.14" stroke="#1c1c1c" stroke-width="1.90"/><line x1="954.70" y1="215.14" x2="950.00" y2="215.14" stroke="#1c1c1c" stroke-width="1.90"/><line x1="564.90" y1="148.93" x2="569.60" y2="148.93" stroke="#1c1c1c" stroke-width="1.90"/><line x1="954.70" y1="148.93" x2="950.00" y2="148.93" stroke="#1c1c1c" stroke-width="1.90"/><line x1="564.90" y1="82.71" x2="569.60" y2="82.71" stroke="#1c1c1c" stroke-width="1.90"/><line x1="954.70" y1="82.71" x2="950.00" y2="82.71" stroke="#1c1c1c" stroke-width="1.90"/><line x1="564.90" y1="16.50" x2="569.60" y2="16.50" stroke="#1c1c1c" stroke-width="1.90"/><line x1="954.70" y1="16.50" x2="950.00" y2="16.50" stroke="#1c1c1c" stroke-width="1.90"/>
<g>
<path transform="scale(0.7300,1)" d="M907.40,314.40L905.39,314.47L903.37,314.81L901.37,315.42L899.47,316.29L897.71,317.40L896.14,318.73L894.83,320.27L893.81,322.01L893.15,323.93L892.82,325.95L892.80,328.01L893.06,330.03L893.57,331.94L894.31,333.74L895.25,335.44L896.36,337.06L897.62,338.59L898.99,340.06L900.46,341.48L901.98,342.86L903.54,344.20L905.11,345.53L906.69,346.83L908.29,348.12L909.89,349.39L911.51,350.63L913.13,351.86L914.77,353.08L916.41,354.27L918.06,355.44L919.73,356.60L921.40,357.74L923.08,358.87L924.77,359.97L926.47,361.06L928.18,362.14L929.90,363.20L931.62,364.24L933.36,365.27L935.10,366.28L936.84,367.28L938.60,368.26L940.36,369.23L942.13,370.19L943.91,371.13L945.69,372.06L947.48,372.98L949.28,373.88L951.08,374.77L952.89,375.65L954.70,376.51L956.52,377.37L958.35,378.21L960.18,379.04L962.01,379.86L963.85,380.67L965.70,381.47L967.54,382.26L969.40,383.04L971.26,383.81L973.12,384.58L974.98,385.33L976.85,386.07L978.72,386.81L980.60,387.54L982.47,388.26L984.35,388.97L986.24,389.67L988.12,390.37L990.01,391.06L991.90,391.75L993.79,392.42L995.69,393.09L997.59,393.76L999.49,394.42L1001.39,395.07L1003.29,395.71L1005.20,396.35L1007.10,396.98L1009.01,397.61L1010.93,398.23L1012.84,398.85L1014.76,399.46L1016.67,400.06L1018.59,400.66L1020.51,401.25L1022.44,401.84L1024.36,402.42L1026.29,403.00L1028.22,403.57L1030.15,404.13L1032.08,404.70L1034.01,405.25L1035.94,405.80L1037.88,406.35L1039.82,406.89L1041.76,407.43L1043.70,407.97L1045.64,408.49L1047.58,409.02L1049.53,409.54L1051.47,410.06L1053.42,410.57L1055.37,411.08L1057.31,411.58L1059.26,412.09L1061.22,412.58L1063.17,413.08L1065.12,413.57L1067.08,414.06L1069.03,414.54L1070.99,415.02L1072.94,415.50L1074.90,415.98L1076.86,416.45L1078.82,416.92L1080.78,417.38L1082.74,417.85L1084.70,418.31L1086.67,418.77L1088.63,419.22L1090.59,419.68L1092.56,420.13L1094.52,420.58L1096.49,421.03L1098.45,421.48L1100.42,421.92L1102.38,422.36L1104.35,422.80L1106.32,423.24L1108.28,423.68L1110.25,424.12L1112.22,424.55L1114.18,424.98L1116.15,425.42L1118.12,425.85L1120.09,426.28L1122.06,426.71L1124.02,427.14L1125.99,427.57L1127.96,427.99L1129.93,428.42L1131.89,428.85L1133.86,429.27L1135.83,429.70L1137.79,430.13L1139.76,430.55L1141.73,430.98L1143.69,431.41L1145.66,431.83L1147.62,432.26L1149.59,432.70L1151.55,433.13L1153.51,433.57L1155.47,434.01L1157.43,434.46L1159.39,434.91L1161.35,435.36L1163.31,435.82L1165.27,436.29L1167.22,436.76L1169.17,437.24L1171.13,437.72L1173.08,438.22L1175.03,438.71L1176.98,439.22L1178.93,439.72L1180.88,440.23L1182.83,440.73L1184.78,441.24L1186.73,441.74L1188.68,442.24L1190.63,442.74L1192.59,443.23L1194.55,443.71L1196.51,444.18L1198.47,444.64L1200.44,445.09L1202.41,445.52L1204.38,445.94L1206.36,446.35L1208.34,446.74L1210.32,447.12L1212.31,447.49L1214.29,447.85L1216.28,448.21L1218.27,448.58L1220.25,448.94L1222.23,449.32L1224.21,449.70L1226.19,450.09L1228.16,450.50L1230.13,450.93L1232.08,451.37L1234.04,451.84L1235.98,452.34L1237.92,452.87L1239.84,453.42L1241.76,454.02L1243.66,454.65L1245.55,455.32L1247.43,456.04L1249.29,456.80L1251.14,457.61L1252.98,458.48L1254.79,459.40L1253.01,460.44L1251.20,461.37L1249.36,462.19L1247.50,462.91L1245.62,463.54L1243.72,464.09L1241.81,464.55L1239.87,464.93L1237.92,465.25L1235.96,465.50L1233.98,465.70L1231.98,465.84L1229.98,465.93L1227.97,465.98L1225.94,465.99L1223.91,465.97L1221.87,465.93L1219.82,465.87L1217.77,465.79L1215.72,465.71L1213.66,465.62L1211.60,465.53L1209.54,465.45L1207.48,465.38L1205.42,465.34L1203.36,465.32L1201.31,465.31L1199.26,465.32L1197.21,465.35L1195.17,465.37L1193.13,465.40L1191.10,465.43L1189.07,465.44L1187.05,465.45L1185.03,465.43L1183.02,465.39L1181.02,465.32L1179.02,465.22L1177.03,465.08L1175.05,464.90L1173.08,464.68L1171.11,464.40L1169.15,464.06L1167.21,463.66L1165.27,463.20L1163.34,462.67L1161.42,462.05L1159.52,461.36L1157.62,460.59L1155.74,459.72L1153.90,458.75L1152.12,457.69L1150.44,456.51L1148.88,455.23L1147.47,453.82L1146.23,452.28L1145.18,450.62L1144.30,448.86L1143.57,447.01L1142.97,445.08L1142.48,443.11L1142.08,441.09L1141.78,439.05L1141.56,436.99L1141.42,434.92L1141.35,432.85L1141.35,430.77L1141.41,428.71L1141.54,426.66L1141.72,424.63L1141.95,422.62L1142.23,420.62L1142.57,418.63L1142.94,416.66L1143.36,414.70L1143.82,412.75L1144.32,410.82L1144.85,408.89L1145.41,406.97L1146.01,405.06L1146.62,403.16L1147.26,401.26L1147.93,399.37L1148.61,397.49L1149.30,395.61L1150.01,393.73L1150.72,391.85L1151.45,389.98L1152.18,388.11L1152.91,386.24L1153.65,384.37L1154.39,382.50L1155.13,380.63L1155.88,378.76L1156.63,376.90L1157.38,375.03L1158.14,373.17L1158.90,371.30L1159.67,369.44L1160.43,367.58L1161.20,365.71L1161.97,363.85L1162.74,361.99L1163.51,360.13L1164.29,358.27L1165.07,356.40L1165.84,354.54L1166.62,352.68L1167.40,350.82L1168.18,348.96L1168.96,347.10L1169.74,345.24L1170.52,343.38L1171.30,341.52L1172.08,339.65L1172.86,337.79L1173.64,335.93L1174.42,334.07L1175.20,332.20L1175.97,330.34L1176.75,328.47L1177.52,326.61L1178.29,324.74L1179.06,322.88L1179.82,321.01L1180.59,319.14L1181.35,317.27L1182.11,315.40L1182.86,313.53L1183.62,311.66L1184.37,309.78L1185.11,307.91L1185.85,306.03L1186.59,304.16L1187.32,302.28L1188.05,300.40L1188.78,298.52L1189.50,296.63L1190.22,294.75L1190.93,292.86L1191.63,290.98L1192.33,289.09L1193.03,287.20L1193.72,285.30L1194.40,283.41L1195.08,281.51L1195.75,279.61L1196.41,277.71L1197.07,275.81L1197.72,273.90L1198.36,272.00L1199.00,270.09L1199.63,268.18L1200.25,266.26L1200.86,264.35L1201.47,262.43L1202.06,260.51L1202.65,258.58L1203.23,256.65L1203.80,254.73L1204.37,252.79L1204.92,250.86L1205.46,248.92L1206.00,246.98L1206.52,245.04L1207.04,243.09L1207.54,241.14L1208.04,239.19L1208.52,237.23L1208.99,235.27L1209.46,233.31L1209.91,231.35L1210.35,229.38L1210.78,227.41L1211.20,225.43L1211.60,223.45L1212.00,221.47L1212.38,219.48L1212.75,217.49L1213.10,215.50L1213.45,213.50L1213.78,211.50L1214.10,209.50" fill="none" stroke="#000000" stroke-width="6.30" stroke-linejoin="round" stroke-linecap="butt"/>
<path transform="scale(0.7300,1)" d="M907.40,314.40L905.41,314.48L903.38,314.84L901.36,315.46L899.41,316.32L897.57,317.40L895.89,318.67L894.43,320.12L893.23,321.71L892.35,323.42L891.80,325.24L891.56,327.13L891.61,329.07L891.90,331.03L892.42,332.99L893.14,334.92L894.03,336.80L895.07,338.59L896.22,340.29L897.47,341.88L898.81,343.38L900.24,344.80L901.73,346.15L903.28,347.44L904.87,348.68L906.50,349.88L908.16,351.06L909.83,352.22L911.51,353.37L913.19,354.51L914.87,355.65L916.56,356.78L918.25,357.90L919.95,359.01L921.65,360.12L923.36,361.22L925.07,362.30L926.79,363.38L928.51,364.46L930.23,365.52L931.96,366.57L933.70,367.62L935.44,368.65L937.18,369.68L938.93,370.70L940.68,371.70L942.43,372.70L944.19,373.69L945.96,374.67L947.73,375.64L949.50,376.59L951.28,377.54L953.06,378.48L954.85,379.41L956.64,380.32L958.43,381.23L960.23,382.12L962.04,383.01L963.84,383.88L965.66,384.74L967.47,385.60L969.29,386.44L971.12,387.27L972.94,388.09L974.78,388.91L976.61,389.71L978.45,390.50L980.30,391.28L982.14,392.06L983.99,392.82L985.85,393.58L987.71,394.32L989.57,395.06L991.43,395.79L993.30,396.51L995.17,397.22L997.05,397.93L998.92,398.62L1000.81,399.31L1002.69,399.99L1004.58,400.66L1006.47,401.32L1008.36,401.98L1010.26,402.63L1012.16,403.27L1014.06,403.91L1015.96,404.53L1017.87,405.15L1019.78,405.77L1021.69,406.38L1023.61,406.98L1025.53,407.57L1027.45,408.16L1029.37,408.74L1031.29,409.32L1033.22,409.89L1035.15,410.45L1037.08,411.01L1039.01,411.56L1040.95,412.11L1042.89,412.66L1044.83,413.19L1046.77,413.73L1048.71,414.26L1050.66,414.78L1052.60,415.30L1054.55,415.81L1056.50,416.32L1058.46,416.83L1060.41,417.33L1062.36,417.83L1064.32,418.33L1066.28,418.82L1068.24,419.31L1070.20,419.79L1072.16,420.27L1074.12,420.75L1076.09,421.23L1078.05,421.70L1080.02,422.17L1081.99,422.63L1083.95,423.10L1085.92,423.56L1087.89,424.02L1089.86,424.48L1091.83,424.94L1093.81,425.39L1095.78,425.84L1097.75,426.30L1099.73,426.75L1101.70,427.19L1103.67,427.64L1105.65,428.09L1107.62,428.53L1109.60,428.98L1111.58,429.42L1113.55,429.87L1115.53,430.31L1117.50,430.76L1119.48,431.20L1121.45,431.64L1123.43,432.09L1125.41,432.53L1127.38,432.98L1129.36,433.42L1131.33,433.87L1133.30,434.31L1135.28,434.76L1137.25,435.21L1139.22,435.66L1141.20,436.11L1143.17,436.57L1145.14,437.02L1147.11,437.48L1149.08,437.94L1151.05,438.40L1153.02,438.86L1154.98,439.32L1156.95,439.79L1158.91,440.26L1160.88,440.73L1162.84,441.21L1164.80,441.69L1166.76,442.17L1168.72,442.65L1170.67,443.14L1172.63,443.63L1174.58,444.13L1176.54,444.63L1178.49,445.13L1180.44,445.64L1182.39,446.15L1184.33,446.66L1186.28,447.18L1188.22,447.71L1190.16,448.24L1192.10,448.77L1194.03,449.31L1195.97,449.85L1197.90,450.40L1199.83,450.96L1201.76,451.52L1203.69,452.08L1205.61,452.65L1207.53,453.23L1209.45,453.81L1211.37,454.40L1213.28,455.00L1215.19,455.60L1217.10,456.20L1219.00,456.82L1220.91,457.44L1222.81,458.07L1224.71,458.70L1226.60,459.35L1228.49,460.00L1226.62,460.83L1224.74,461.58L1222.84,462.24L1220.92,462.83L1218.99,463.35L1217.05,463.80L1215.09,464.18L1213.13,464.52L1211.15,464.80L1209.16,465.04L1207.17,465.23L1205.17,465.39L1203.16,465.53L1201.15,465.63L1199.13,465.72L1197.11,465.79L1195.09,465.86L1193.07,465.92L1191.04,465.98L1189.02,466.05L1187.00,466.11L1184.97,466.19L1182.95,466.26L1180.93,466.34L1178.91,466.42L1176.89,466.50L1174.87,466.58L1172.85,466.66L1170.83,466.74L1168.82,466.82L1166.80,466.90L1164.79,466.98L1162.77,467.05L1160.76,467.12L1158.75,467.19L1156.74,467.25L1154.74,467.31L1152.73,467.36L1150.73,467.41L1148.73,467.45L1146.73,467.49L1144.73,467.52L1142.73,467.55L1140.73,467.57L1138.74,467.58L1136.74,467.58L1134.74,467.58L1132.75,467.58L1130.75,467.56L1128.76,467.54L1126.76,467.51L1124.76,467.48L1122.77,467.43L1120.77,467.38L1118.77,467.33L1116.77,467.26L1114.77,467.19L1112.76,467.11L1110.76,467.02L1108.75,466.92L1106.74,466.81L1104.73,466.70L1102.72,466.58L1100.70,466.44L1098.68,466.30L1096.66,466.15L1094.63,465.99L1092.60,465.82L1090.57,465.62L1088.52,465.40L1086.46,465.13L1084.39,464.83L1082.31,464.47L1080.24,464.04L1078.20,463.55L1076.20,462.97L1074.26,462.30L1072.39,461.53L1070.61,460.64L1068.93,459.63L1067.38,458.50L1065.96,457.22L1064.67,455.82L1063.51,454.30L1062.47,452.68L1061.56,450.96L1060.77,449.16L1060.09,447.28L1059.53,445.35L1059.08,443.37L1058.73,441.34L1058.49,439.30L1058.35,437.23L1058.31,435.16L1058.36,433.10L1058.51,431.05L1058.74,429.03L1059.06,427.02L1059.45,425.04L1059.91,423.07L1060.43,421.12L1061.01,419.18L1061.64,417.26L1062.31,415.36L1063.03,413.47L1063.78,411.60L1064.55,409.74L1065.35,407.89L1066.17,406.06L1067.01,404.24L1067.87,402.42L1068.75,400.62L1069.65,398.83L1070.56,397.05L1071.49,395.27L1072.44,393.51L1073.40,391.75L1074.37,390.00L1075.35,388.26L1076.35,386.52L1077.36,384.79L1078.38,383.07L1079.40,381.35L1080.43,379.63L1081.47,377.92L1082.52,376.20L1083.57,374.50L1084.63,372.79L1085.69,371.09L1086.75,369.38L1087.81,367.68L1088.88,365.97L1089.94,364.27L1091.00,362.56L1092.06,360.85L1093.12,359.14L1094.18,357.43L1095.23,355.72L1096.28,354.00L1097.33,352.28L1098.38,350.56L1099.42,348.84L1100.46,347.11L1101.51,345.39L1102.55,343.67L1103.59,341.94L1104.63,340.22L1105.67,338.49L1106.72,336.77L1107.76,335.04L1108.81,333.32L1109.85,331.59L1110.90,329.87L1111.95,328.15L1113.00,326.43L1114.06,324.72L1115.11,323.00L1116.18,321.29L1117.24,319.58L1118.31,317.87L1119.38,316.17L1120.46,314.46L1121.54,312.77L1122.62,311.07L1123.72,309.38L1124.81,307.69L1125.91,306.01L1127.02,304.33L1128.14,302.66L1129.26,300.99L1130.39,299.33L1131.53,297.67L1132.67,296.02L1133.82,294.37L1134.98,292.73L1136.15,291.09L1137.32,289.46L1138.51,287.84L1139.70,286.23L1140.91,284.62L1142.12,283.02L1143.35,281.43L1144.58,279.84L1145.83,278.27L1147.09,276.70L1148.35,275.14L1149.63,273.59L1150.93,272.04L1152.23,270.51L1153.54,268.98L1154.85,267.46L1156.17,265.93L1157.49,264.41L1158.81,262.89L1160.13,261.37L1161.44,259.84L1162.75,258.31L1164.04,256.77L1165.32,255.22L1166.58,253.66L1167.83,252.09L1169.06,250.50L1170.28,248.90L1171.47,247.29L1172.64,245.66L1173.80,244.02L1174.94,242.37L1176.06,240.71L1177.17,239.04L1178.26,237.36L1179.33,235.66L1180.39,233.96L1181.43,232.25L1182.46,230.52L1183.47,228.79L1184.47,227.05L1185.45,225.30L1186.42,223.55L1187.37,221.78L1188.32,220.01L1189.25,218.23L1190.17,216.44L1191.07,214.65L1191.97,212.85L1192.85,211.05L1193.72,209.24L1194.59,207.42L1195.44,205.60L1196.29,203.78L1197.12,201.94L1197.95,200.11L1198.77,198.27L1199.58,196.43L1200.39,194.58L1201.18,192.73L1201.98,190.87L1202.76,189.02L1203.54,187.16L1204.32,185.30L1205.09,183.43L1205.86,181.57L1206.62,179.70L1207.38,177.83L1208.14,175.97L1208.89,174.10L1209.64,172.23L1210.39,170.36L1211.14,168.49L1211.89,166.62L1212.64,164.75L1213.39,162.88L1214.14,161.01L1214.89,159.15L1215.64,157.28L1216.39,155.42L1217.14,153.56L1217.89,151.70L1218.65,149.84L1219.40,147.98L1220.15,146.12L1220.89,144.26L1221.64,142.40L1222.39,140.54L1223.13,138.68L1223.87,136.81L1224.60,134.95L1225.33,133.08L1226.06,131.22L1226.79,129.35L1227.51,127.48L1228.22,125.60L1228.93,123.73L1229.64,121.85L1230.34,119.97L1231.03,118.08L1231.71,116.19L1232.39,114.30L1233.06,112.41L1233.73,110.51L1234.38,108.60L1235.03,106.69L1235.67,104.78L1236.30,102.86L1236.92,100.93L1237.53,99.00" fill="none" stroke="#ff0000" stroke-width="6.30" stroke-linejoin="round" stroke-linecap="butt"/>
<path transform="scale(0.7300,1)" d="M907.41,314.40L905.25,314.51L903.15,314.87L901.13,315.49L899.21,316.32L897.42,317.37L895.80,318.60L894.36,320.00L893.13,321.54L892.15,323.22L891.44,325.00L890.98,326.88L890.76,328.81L890.76,330.79L890.98,332.79L891.38,334.79L891.96,336.77L892.70,338.70L893.59,340.56L894.60,342.34L895.73,344.02L896.96,345.63L898.28,347.16L899.69,348.63L901.15,350.04L902.68,351.40L904.24,352.72L905.84,354.01L907.45,355.27L909.08,356.51L910.71,357.74L912.36,358.94L914.01,360.13L915.67,361.30L917.34,362.46L919.02,363.59L920.71,364.71L922.40,365.82L924.11,366.91L925.82,367.98L927.53,369.04L929.26,370.08L930.99,371.12L932.73,372.13L934.47,373.14L936.23,374.13L937.98,375.11L939.75,376.08L941.52,377.04L943.29,377.98L945.07,378.92L946.86,379.84L948.65,380.76L950.45,381.67L952.25,382.56L954.05,383.45L955.86,384.33L957.67,385.21L959.49,386.07L961.31,386.93L963.13,387.79L964.96,388.63L966.79,389.47L968.62,390.30L970.46,391.13L972.30,391.95L974.14,392.76L975.99,393.57L977.84,394.36L979.69,395.16L981.54,395.94L983.40,396.72L985.26,397.50L987.13,398.27L989.00,399.03L990.87,399.78L992.74,400.53L994.62,401.27L996.49,402.01L998.38,402.74L1000.26,403.47L1002.15,404.18L1004.04,404.90L1005.93,405.60L1007.82,406.31L1009.72,407.00L1011.62,407.69L1013.52,408.37L1015.42,409.05L1017.33,409.72L1019.23,410.39L1021.14,411.05L1023.06,411.71L1024.97,412.36L1026.89,413.00L1028.80,413.64L1030.72,414.28L1032.65,414.91L1034.57,415.53L1036.50,416.15L1038.42,416.76L1040.35,417.37L1042.28,417.98L1044.22,418.57L1046.15,419.17L1048.08,419.75L1050.02,420.34L1051.96,420.92L1053.90,421.49L1055.84,422.06L1057.78,422.62L1059.73,423.18L1061.67,423.74L1063.62,424.29L1065.56,424.83L1067.51,425.38L1069.46,425.91L1071.41,426.44L1073.36,426.97L1075.31,427.50L1077.27,428.01L1079.22,428.53L1081.18,429.04L1083.13,429.55L1085.09,430.05L1087.04,430.55L1089.00,431.04L1090.96,431.53L1092.92,432.02L1094.88,432.50L1096.84,432.98L1098.79,433.45L1100.75,433.92L1102.72,434.39L1104.68,434.86L1106.64,435.32L1108.60,435.78L1110.56,436.23L1112.52,436.69L1114.49,437.14L1116.45,437.59L1118.41,438.04L1120.38,438.48L1122.34,438.93L1124.31,439.37L1126.27,439.81L1128.24,440.26L1130.21,440.70L1132.17,441.14L1134.14,441.58L1136.11,442.02L1138.08,442.46L1140.05,442.91L1142.02,443.35L1143.99,443.79L1145.96,444.24L1147.93,444.68L1149.90,445.13L1151.87,445.58L1153.84,446.03L1155.82,446.48L1157.79,446.94L1159.76,447.39L1161.74,447.85L1163.71,448.32L1165.69,448.78L1167.66,449.25L1169.64,449.73L1171.62,450.20L1173.59,450.69L1175.57,451.18L1177.54,451.68L1179.51,452.19L1181.47,452.73L1183.42,453.29L1185.36,453.87L1187.29,454.49L1189.20,455.13L1191.10,455.81L1192.97,456.54L1194.83,457.30L1196.67,458.11L1198.49,458.98L1200.28,459.89L1202.04,460.86L1203.78,461.90L1205.48,463.00L1203.53,463.55L1201.58,464.06L1199.63,464.55L1197.67,465.02L1195.71,465.46L1193.74,465.88L1191.78,466.28L1189.81,466.65L1187.84,467.00L1185.87,467.34L1183.89,467.65L1181.91,467.94L1179.93,468.22L1177.95,468.48L1175.97,468.72L1173.98,468.94L1171.99,469.15L1170.00,469.34L1168.01,469.52L1166.01,469.68L1164.02,469.83L1162.02,469.97L1160.02,470.09L1158.02,470.21L1156.02,470.31L1154.01,470.40L1152.01,470.49L1150.00,470.56L1147.99,470.63L1145.98,470.69L1143.97,470.74L1141.96,470.79L1139.95,470.83L1137.94,470.87L1135.92,470.90L1133.91,470.93L1131.89,470.95L1129.87,470.97L1127.85,471.00L1125.84,471.02L1123.82,471.04L1121.80,471.06L1119.78,471.08L1117.76,471.10L1115.74,471.13L1113.72,471.16L1111.69,471.19L1109.67,471.23L1107.65,471.27L1105.63,471.32L1103.61,471.37L1101.59,471.43L1099.57,471.49L1097.55,471.55L1095.53,471.62L1093.51,471.69L1091.49,471.76L1089.47,471.83L1087.45,471.90L1085.43,471.97L1083.41,472.05L1081.40,472.12L1079.38,472.19L1077.37,472.26L1075.36,472.33L1073.34,472.40L1071.33,472.46L1069.32,472.52L1067.31,472.58L1065.31,472.63L1063.30,472.68L1061.30,472.72L1059.30,472.75L1057.30,472.78L1055.30,472.81L1053.30,472.82L1051.30,472.83L1049.31,472.83L1047.32,472.82L1045.33,472.81L1043.34,472.78L1041.36,472.74L1039.38,472.69L1037.40,472.64L1035.42,472.57L1033.44,472.49L1031.46,472.41L1029.49,472.32L1027.51,472.23L1025.53,472.13L1023.56,472.03L1021.58,471.93L1019.60,471.82L1017.61,471.72L1015.63,471.61L1013.64,471.51L1011.65,471.41L1009.65,471.32L1007.65,471.23L1005.65,471.14L1003.64,471.07L1001.62,471.00L999.60,470.93L997.57,470.88L995.54,470.84L993.49,470.81L991.44,470.80L989.39,470.80L987.32,470.81L985.24,470.84L983.16,470.87L981.07,470.91L978.99,470.94L976.90,470.94L974.82,470.90L972.74,470.83L970.68,470.69L968.64,470.49L966.61,470.22L964.60,469.86L962.61,469.39L960.65,468.82L958.72,468.13L956.83,467.31L955.01,466.35L953.29,465.27L951.69,464.04L950.25,462.67L949.00,461.16L947.96,459.50L947.16,457.70L946.57,455.81L946.18,453.84L945.98,451.84L945.96,449.83L946.10,447.84L946.39,445.89L946.82,443.98L947.37,442.10L948.05,440.26L948.82,438.44L949.69,436.64L950.64,434.87L951.66,433.11L952.74,431.37L953.86,429.64L955.02,427.93L956.20,426.22L957.39,424.52L958.59,422.81L959.77,421.11L960.93,419.40L962.07,417.69L963.17,415.97L964.25,414.25L965.30,412.52L966.33,410.79L967.34,409.06L968.34,407.32L969.32,405.58L970.28,403.84L971.24,402.10L972.19,400.36L973.14,398.63L974.08,396.89L975.02,395.15L975.97,393.42L976.91,391.69L977.87,389.97L978.83,388.25L979.80,386.53L980.79,384.82L981.80,383.12L982.82,381.42L983.86,379.74L984.92,378.06L986.01,376.38L987.11,374.72L988.23,373.06L989.37,371.41L990.53,369.76L991.70,368.12L992.88,366.48L994.07,364.85L995.28,363.22L996.49,361.60L997.71,359.97L998.94,358.35L1000.17,356.73L1001.41,355.12L1002.65,353.50L1003.89,351.88L1005.13,350.27L1006.37,348.65L1007.60,347.03L1008.84,345.41L1010.07,343.79L1011.29,342.17L1012.50,340.54L1013.71,338.91L1014.90,337.28L1016.09,335.64L1017.27,334.00L1018.44,332.36L1019.61,330.71L1020.77,329.07L1021.92,327.42L1023.07,325.77L1024.22,324.12L1025.36,322.47L1026.50,320.82L1027.64,319.17L1028.78,317.52L1029.92,315.87L1031.06,314.23L1032.20,312.58L1033.34,310.94L1034.48,309.30L1035.63,307.66L1036.78,306.03L1037.94,304.39L1039.10,302.77L1040.26,301.14L1041.43,299.52L1042.61,297.91L1043.80,296.30L1044.99,294.69L1046.19,293.09L1047.39,291.49L1048.61,289.90L1049.82,288.31L1051.05,286.72L1052.28,285.14L1053.51,283.57L1054.76,281.99L1056.00,280.42L1057.26,278.86L1058.52,277.30L1059.78,275.74L1061.05,274.18L1062.32,272.63L1063.60,271.08L1064.89,269.54L1066.18,268.00L1067.47,266.46L1068.77,264.92L1070.08,263.39L1071.39,261.86L1072.70,260.33L1074.02,258.81L1075.34,257.29L1076.66,255.77L1077.99,254.25L1079.33,252.74L1080.67,251.23L1082.01,249.72L1083.35,248.21L1084.70,246.70L1086.05,245.20L1087.41,243.70L1088.77,242.20L1090.13,240.70L1091.49,239.21L1092.86,237.72L1094.23,236.23L1095.61,234.74L1096.99,233.26L1098.37,231.78L1099.76,230.31L1101.16,228.85L1102.56,227.39L1103.97,225.94L1105.39,224.50L1106.82,223.07L1108.25,221.65L1109.69,220.24L1111.14,218.85L1112.60,217.47L1114.07,216.10L1115.55,214.74L1117.05,213.40L1118.55,212.07L1120.06,210.77L1121.59,209.47L1123.13,208.20L1124.68,206.95L1126.25,205.71L1127.83,204.50L1129.42,203.30L1131.03,202.13L1132.66,200.98L1134.30,199.85L1135.95,198.74L1137.62,197.65L1139.30,196.58L1141.00,195.54L1142.71,194.51L1144.43,193.50L1146.17,192.51L1147.92,191.53L1149.68,190.58L1151.45,189.64L1153.24,188.71L1155.04,187.81L1156.85,186.92L1158.68,186.05L1160.51,185.19L1162.36,184.34L1164.22,183.51L1166.08,182.69L1167.96,181.88L1169.82,181.06L1171.68,180.23L1173.52,179.37L1175.32,178.48L1177.10,177.54L1178.83,176.55L1180.51,175.49L1182.13,174.36L1183.69,173.15L1185.19,171.87L1186.64,170.52L1188.05,169.12L1189.40,167.65L1190.72,166.15L1192.00,164.59L1193.24,163.00L1194.46,161.38L1195.65,159.73L1196.82,158.06L1197.97,156.37L1199.10,154.68L1200.23,152.98L1201.35,151.28L1202.46,149.58L1203.57,147.89L1204.67,146.20L1205.77,144.51L1206.85,142.82L1207.92,141.12L1208.98,139.42L1210.03,137.72L1211.06,136.01L1212.07,134.30L1213.07,132.57L1214.05,130.84L1215.00,129.09L1215.94,127.34L1216.85,125.57L1217.74,123.78L1218.61,121.98L1219.45,120.17L1220.28,118.35L1221.09,116.51L1221.89,114.67L1222.69,112.83L1223.48,110.98L1224.27,109.12L1225.06,107.27L1225.85,105.42L1226.65,103.58L1227.47,101.74L1228.30,99.90L1229.15,98.08L1230.02,96.26L1230.91,94.46L1231.83,92.68L1232.79,90.91L1233.77,89.16L1234.80,87.43L1235.85,85.71L1236.92,84.01L1238.01,82.31L1239.09,80.61L1240.17,78.92L1241.24,77.21L1242.29,75.49L1243.30,73.76L1244.28,72.01L1245.21,70.23L1246.08,68.43L1246.89,66.59L1247.63,64.71L1248.28,62.79L1248.85,60.82L1249.32,58.80" fill="none" stroke="#0000ff" stroke-width="6.30" stroke-linejoin="round" stroke-linecap="butt"/>
<path transform="scale(0.7300,1)" d="M907.40,314.40L905.48,314.40L903.49,314.53L901.46,314.79L899.43,315.20L897.43,315.77L895.49,316.52L893.66,317.46L891.98,318.59L890.46,319.94L889.16,321.51L888.10,323.27L887.29,325.16L886.75,327.12L886.48,329.09L886.48,331.05L886.70,333.00L887.13,334.94L887.74,336.85L888.50,338.73L889.39,340.57L890.39,342.37L891.46,344.13L892.58,345.83L893.76,347.48L894.98,349.08L896.25,350.63L897.57,352.14L898.92,353.60L900.32,355.02L901.76,356.39L903.23,357.73L904.73,359.03L906.27,360.30L907.84,361.53L909.44,362.74L911.06,363.91L912.71,365.05L914.38,366.17L916.07,367.26L917.78,368.34L919.51,369.39L921.25,370.42L923.01,371.44L924.77,372.44L926.55,373.43L928.33,374.41L930.12,375.38L931.91,376.34L933.70,377.30L935.49,378.25L937.28,379.20L939.08,380.14L940.88,381.07L942.68,382.00L944.48,382.92L946.28,383.84L948.09,384.75L949.90,385.65L951.71,386.55L953.52,387.44L955.33,388.33L957.14,389.21L958.96,390.09L960.78,390.96L962.60,391.83L964.42,392.68L966.24,393.54L968.06,394.39L969.89,395.23L971.72,396.07L973.55,396.90L975.38,397.73L977.21,398.55L979.05,399.37L980.88,400.18L982.72,400.98L984.56,401.78L986.40,402.58L988.25,403.37L990.09,404.16L991.94,404.94L993.79,405.71L995.64,406.48L997.49,407.24L999.35,408.00L1001.20,408.76L1003.06,409.51L1004.92,410.25L1006.78,410.99L1008.65,411.72L1010.51,412.45L1012.38,413.18L1014.25,413.90L1016.12,414.61L1017.99,415.32L1019.86,416.03L1021.74,416.73L1023.62,417.42L1025.49,418.11L1027.37,418.80L1029.26,419.48L1031.14,420.16L1033.03,420.83L1034.92,421.50L1036.81,422.16L1038.70,422.82L1040.59,423.47L1042.48,424.12L1044.38,424.76L1046.28,425.40L1048.18,426.04L1050.08,426.67L1051.99,427.30L1053.89,427.92L1055.80,428.54L1057.71,429.15L1059.62,429.76L1061.53,430.36L1063.45,430.96L1065.36,431.56L1067.28,432.15L1069.20,432.74L1071.12,433.32L1073.04,433.90L1074.97,434.48L1076.90,435.05L1078.83,435.62L1080.76,436.18L1082.69,436.74L1084.62,437.29L1086.56,437.84L1088.50,438.39L1090.43,438.93L1092.38,439.47L1094.32,440.01L1096.26,440.54L1098.21,441.07L1100.16,441.59L1102.11,442.11L1104.06,442.63L1106.01,443.14L1107.96,443.65L1109.92,444.16L1111.88,444.66L1113.83,445.17L1115.79,445.67L1117.75,446.16L1119.71,446.66L1121.67,447.15L1123.63,447.65L1125.59,448.14L1127.55,448.62L1129.52,449.11L1131.48,449.60L1133.44,450.08L1135.40,450.57L1137.37,451.05L1139.33,451.54L1141.29,452.02L1143.25,452.50L1145.21,452.99L1147.18,453.47L1149.14,453.95L1151.10,454.44L1153.05,454.92L1155.01,455.41L1156.97,455.90L1158.93,456.38L1160.88,456.87L1162.83,457.36L1164.79,457.86L1166.73,458.36L1168.68,458.88L1170.61,459.42L1172.53,459.99L1174.43,460.60L1176.32,461.25L1178.18,461.96L1180.03,462.72L1181.85,463.55L1183.64,464.45L1185.40,465.43L1187.12,466.50L1185.26,467.34L1183.39,468.11L1181.51,468.82L1179.61,469.48L1177.70,470.08L1175.78,470.62L1173.85,471.11L1171.91,471.56L1169.97,471.96L1168.01,472.32L1166.05,472.63L1164.07,472.91L1162.10,473.16L1160.11,473.37L1158.12,473.55L1156.13,473.71L1154.13,473.84L1152.12,473.95L1150.11,474.04L1148.10,474.11L1146.09,474.17L1144.08,474.22L1142.06,474.26L1140.04,474.30L1138.02,474.33L1136.01,474.36L1133.99,474.39L1131.98,474.43L1129.96,474.46L1127.94,474.49L1125.93,474.53L1123.92,474.56L1121.90,474.60L1119.89,474.63L1117.88,474.67L1115.86,474.71L1113.85,474.75L1111.84,474.78L1109.83,474.82L1107.82,474.86L1105.81,474.90L1103.80,474.94L1101.79,474.98L1099.78,475.02L1097.77,475.06L1095.76,475.10L1093.76,475.14L1091.75,475.18L1089.74,475.22L1087.73,475.27L1085.73,475.31L1083.72,475.35L1081.72,475.39L1079.71,475.43L1077.70,475.47L1075.70,475.52L1073.69,475.56L1071.69,475.60L1069.68,475.64L1067.68,475.68L1065.68,475.72L1063.67,475.77L1061.67,475.81L1059.66,475.85L1057.66,475.89L1055.66,475.93L1053.65,475.97L1051.65,476.01L1049.65,476.05L1047.64,476.09L1045.64,476.13L1043.64,476.17L1041.64,476.21L1039.63,476.25L1037.63,476.28L1035.63,476.32L1033.62,476.36L1031.62,476.39L1029.62,476.43L1027.62,476.47L1025.61,476.50L1023.61,476.53L1021.61,476.57L1019.61,476.60L1017.60,476.63L1015.60,476.66L1013.60,476.70L1011.60,476.73L1009.59,476.75L1007.59,476.78L1005.59,476.81L1003.58,476.84L1001.58,476.86L999.58,476.89L997.57,476.91L995.57,476.94L993.57,476.96L991.56,476.98L989.56,477.00L987.55,477.02L985.55,477.04L983.54,477.06L981.54,477.07L979.53,477.09L977.53,477.10L975.52,477.12L973.52,477.13L971.51,477.14L969.50,477.15L967.50,477.16L965.49,477.16L963.48,477.17L961.47,477.17L959.47,477.18L957.46,477.18L955.45,477.18L953.44,477.18L951.43,477.18L949.42,477.18L947.42,477.18L945.41,477.17L943.40,477.17L941.39,477.16L939.38,477.15L937.37,477.14L935.36,477.13L933.35,477.12L931.34,477.11L929.33,477.10L927.32,477.08L925.31,477.07L923.30,477.05L921.29,477.03L919.28,477.01L917.27,476.99L915.26,476.97L913.26,476.95L911.25,476.93L909.24,476.91L907.23,476.88L905.22,476.86L903.21,476.83L901.20,476.80L899.19,476.77L897.18,476.74L895.18,476.71L893.17,476.68L891.16,476.65L889.15,476.62L887.15,476.58L885.14,476.55L883.13,476.51L881.13,476.47L879.12,476.44L877.11,476.40L875.11,476.36L873.10,476.32L871.10,476.28L869.09,476.23L867.09,476.19L865.08,476.15L863.08,476.10L861.08,476.06L859.07,476.01L857.07,475.96L855.07,475.91L853.07,475.86L851.07,475.82L849.07,475.77L847.07,475.72L845.07,475.67L843.07,475.63L841.07,475.59L839.07,475.55L837.08,475.51L835.08,475.47L833.09,475.44L831.10,475.42L829.10,475.39L827.11,475.37L825.12,475.36L823.14,475.35L821.15,475.35L819.16,475.35L817.17,475.33L815.17,475.28L813.16,475.19L811.13,475.05L809.09,474.83L807.02,474.53L804.92,474.13L802.82,473.62L800.79,472.95L798.89,472.09L797.21,471.01L795.81,469.68L794.75,468.11L794.01,466.35L793.60,464.46L793.52,462.51L793.76,460.55L794.32,458.65L795.21,456.86L796.41,455.22L797.84,453.72L799.43,452.32L801.08,450.96L802.72,449.62L804.29,448.26L805.77,446.87L807.20,445.47L808.57,444.05L809.92,442.62L811.26,441.19L812.59,439.75L813.94,438.31L815.30,436.88L816.67,435.44L818.05,434.01L819.44,432.58L820.83,431.14L822.23,429.71L823.64,428.27L825.04,426.83L826.45,425.40L827.86,423.95L829.27,422.51L830.68,421.06L832.08,419.61L833.48,418.16L834.87,416.70L836.26,415.24L837.64,413.78L839.02,412.32L840.40,410.85L841.77,409.38L843.14,407.90L844.50,406.42L845.86,404.94L847.22,403.46L848.57,401.97L849.91,400.48L851.26,398.99L852.60,397.49L853.93,395.99L855.27,394.49L856.60,392.99L857.92,391.48L859.24,389.97L860.56,388.46L861.88,386.94L863.19,385.42L864.50,383.90L865.80,382.38L867.10,380.86L868.40,379.33L869.69,377.80L870.99,376.27L872.27,374.73L873.56,373.19L874.84,371.65L876.12,370.11L877.40,368.57L878.67,367.02L879.94,365.47L881.21,363.92L882.48,362.37L883.74,360.81L885.00,359.25L886.26,357.69L887.51,356.13L888.77,354.57L890.02,353.00L891.26,351.44L892.51,349.87L893.75,348.30L894.99,346.72L896.23,345.15L897.47,343.57L898.70,341.99L899.94,340.41L901.17,338.83L902.39,337.25L903.62,335.66L904.85,334.08L906.07,332.49L907.29,330.90L908.51,329.31L909.73,327.71L910.94,326.12L912.16,324.52L913.37,322.92L914.58,321.33L915.79,319.73L917.00,318.13L918.20,316.52L919.41,314.92L920.62,313.32L921.82,311.71L923.02,310.10L924.22,308.50L925.42,306.89L926.62,305.28L927.82,303.67L929.02,302.06L930.21,300.44L931.41,298.83L932.60,297.22L933.80,295.61L934.99,293.99L936.18,292.38L937.37,290.76L938.57,289.14L939.76,287.53L940.95,285.91L942.14,284.29L943.33,282.68L944.52,281.06L945.71,279.44L946.90,277.82L948.09,276.21L949.27,274.59L950.46,272.97L951.65,271.35L952.84,269.73L954.03,268.11L955.22,266.50L956.41,264.88L957.60,263.26L958.79,261.64L959.98,260.03L961.17,258.41L962.36,256.79L963.56,255.18L964.75,253.56L965.94,251.95L967.14,250.33L968.33,248.72L969.52,247.11L970.72,245.50L971.92,243.88L973.12,242.27L974.31,240.66L975.51,239.05L976.72,237.45L977.92,235.84L979.12,234.23L980.32,232.63L981.53,231.02L982.74,229.42L983.94,227.82L985.15,226.22L986.37,224.62L987.58,223.02L988.79,221.42L990.01,219.83L991.22,218.23L992.44,216.64L993.66,215.05L994.89,213.46L996.11,211.87L997.34,210.29L998.57,208.70L999.80,207.12L1001.03,205.54L1002.27,203.96L1003.50,202.39L1004.74,200.81L1005.99,199.24L1007.23,197.67L1008.48,196.10L1009.73,194.54L1010.99,192.98L1012.24,191.42L1013.50,189.86L1014.77,188.31L1016.03,186.75L1017.30,185.20L1018.58,183.66L1019.86,182.12L1021.14,180.58L1022.42,179.04L1023.71,177.50L1025.00,175.97L1026.29,174.45L1027.59,172.92L1028.90,171.40L1030.20,169.88L1031.52,168.37L1032.83,166.86L1034.15,165.35L1035.48,163.85L1036.81,162.35L1038.14,160.85L1039.48,159.36L1040.82,157.87L1042.17,156.39L1043.52,154.91L1044.88,153.43L1046.24,151.96L1047.61,150.50L1048.98,149.03L1050.36,147.58L1051.74,146.12L1053.13,144.67L1054.53,143.23L1055.93,141.79L1057.33,140.35L1058.75,138.92L1060.16,137.50L1061.59,136.08L1063.02,134.66L1064.45,133.25L1065.90,131.85L1067.34,130.45L1068.80,129.05L1070.26,127.66L1071.73,126.28L1073.20,124.90L1074.68,123.53L1076.17,122.16L1077.67,120.81L1079.17,119.47L1080.68,118.13L1082.21,116.81L1083.74,115.51L1085.28,114.21L1086.83,112.93L1088.40,111.67L1089.97,110.43L1091.56,109.20L1093.16,107.99L1094.77,106.81L1096.39,105.64L1098.02,104.50L1099.67,103.38L1101.34,102.28L1103.01,101.21L1104.71,100.16L1106.41,99.14L1108.13,98.14L1109.86,97.15L1111.59,96.17L1113.33,95.18L1115.06,94.19L1116.80,93.19L1118.55,92.19L1120.29,91.18L1122.04,90.18L1123.79,89.17L1125.55,88.18L1127.31,87.19L1129.08,86.21L1130.85,85.25L1132.64,84.30L1134.43,83.37L1136.23,82.46L1138.04,81.57L1139.86,80.71L1141.69,79.87L1143.53,79.07L1145.38,78.30L1147.25,77.56L1149.13,76.86L1151.03,76.20L1152.94,75.58L1154.86,75.01L1156.80,74.48L1158.76,74.01L1160.73,73.58L1162.71,73.21L1164.70,72.91L1166.69,72.66L1168.69,72.48L1170.69,72.36L1172.68,72.32L1174.67,72.35L1176.66,72.46L1178.64,72.65L1180.60,72.92L1182.55,73.28L1184.48,73.72L1186.40,74.26L1188.29,74.89L1190.16,75.62L1192.00,76.45L1193.82,77.37L1195.60,78.37L1197.36,79.43L1199.09,80.56L1200.78,81.74L1202.45,82.97L1204.07,84.23L1205.66,85.52L1207.21,86.84L1208.69,88.21L1210.10,89.62L1211.43,91.10L1212.66,92.63L1213.78,94.24L1214.79,95.92L1215.67,97.70L1216.40,99.56L1216.98,101.53L1217.40,103.60L1218.40,101.79L1219.43,99.99L1220.48,98.20L1221.55,96.43L1222.64,94.66L1223.74,92.90L1224.86,91.15L1225.98,89.40L1227.12,87.66L1228.26,85.92L1229.41,84.18L1230.55,82.45L1231.70,80.71L1232.84,78.97L1233.98,77.23L1235.11,75.49L1236.22,73.73L1237.33,71.98L1238.42,70.21L1239.49,68.44L1240.54,66.65L1241.58,64.86L1242.58,63.05L1243.56,61.23L1244.51,59.39L1245.43,57.54L1246.31,55.66L1247.16,53.77L1247.97,51.86L1248.74,49.93L1249.46,47.98L1250.14,46.00" fill="none" stroke="#00ffff" stroke-width="6.30" stroke-linejoin="round" stroke-linecap="butt"/>
</g>
<text transform="translate(558.3,489.1) scale(0.735,1)" font-family="Liberation Serif" font-size="25.2" font-weight="bold" font-style="normal" text-anchor="end" fill="#000" stroke="#000" stroke-width="0.60">0</text>
<text transform="translate(558.3,422.9) scale(0.735,1)" font-family="Liberation Serif" font-size="25.2" font-weight="bold" font-style="normal" text-anchor="end" fill="#000" stroke="#000" stroke-width="0.60">200</text>
<text transform="translate(558.3,356.7) scale(0.735,1)" font-family="Liberation Serif" font-size="25.2" font-weight="bold" font-style="normal" text-anchor="end" fill="#000" stroke="#000" stroke-width="0.60">400</text>
<text transform="translate(558.3,290.5) scale(0.735,1)" font-family="Liberation Serif" font-size="25.2" font-weight="bold" font-style="normal" text-anchor="end" fill="#000" stroke="#000" stroke-width="0.60">600</text>
<text transform="translate(558.3,224.2) scale(0.735,1)" font-family="Liberation Serif" font-size="25.2" font-weight="bold" font-style="normal" text-anchor="end" fill="#000" stroke="#000" stroke-width="0.60">800</text>
<text transform="translate(558.3,158.0) scale(0.735,1)" font-family="Liberation Serif" font-size="25.2" font-weight="bold" font-style="normal" text-anchor="end" fill="#000" stroke="#000" stroke-width="0.60">1000</text>
<text transform="translate(558.3,91.8) scale(0.735,1)" font-family="Liberation Serif" font-size="25.2" font-weight="bold" font-style="normal" text-anchor="end" fill="#000" stroke="#000" stroke-width="0.60">1200</text>
<text transform="translate(558.3,25.6) scale(0.735,1)" font-family="Liberation Serif" font-size="25.2" font-weight="bold" font-style="normal" text-anchor="end" fill="#000" stroke="#000" stroke-width="0.60">1400</text>
<text transform="translate(564.9,510.9) scale(0.735,1)" font-family="Liberation Serif" font-size="25.2" font-weight="bold" font-style="normal" text-anchor="middle" fill="#000" stroke="#000" stroke-width="0.60">200</text>
<text transform="translate(662.4,510.9) scale(0.735,1)" font-family="Liberation Serif" font-size="25.2" font-weight="bold" font-style="normal" text-anchor="middle" fill="#000" stroke="#000" stroke-width="0.60">300</text>
<text transform="translate(759.8,510.9) scale(0.735,1)" font-family="Liberation Serif" font-size="25.2" font-weight="bold" font-style="normal" text-anchor="middle" fill="#000" stroke="#000" stroke-width="0.60">400</text>
<text transform="translate(857.2,510.9) scale(0.735,1)" font-family="Liberation Serif" font-size="25.2" font-weight="bold" font-style="normal" text-anchor="middle" fill="#000" stroke="#000" stroke-width="0.60">500</text>
<text transform="translate(954.7,510.9) scale(0.735,1)" font-family="Liberation Serif" font-size="25.2" font-weight="bold" font-style="normal" text-anchor="middle" fill="#000" stroke="#000" stroke-width="0.60">600</text>
<rect x="649.1" y="7.8" width="296.8" height="30.5" fill="#fff" stroke="#000" stroke-width="1.5"/>
<line x1="652.4" y1="23.1" x2="677.2" y2="23.1" stroke="#000000" stroke-width="5.8"/>
<text x="680.5" y="31.8" font-family="Liberation Serif" font-size="22.3" textLength="43.7" lengthAdjust="spacingAndGlyphs" stroke="#000" stroke-width="0.5"><tspan font-style="italic">&#945;</tspan><tspan font-weight="bold">=0.7</tspan></text>
<line x1="729.2" y1="23.1" x2="754.8" y2="23.1" stroke="#ff0000" stroke-width="5.8"/>
<text x="757.6" y="31.8" font-family="Liberation Serif" font-size="22.3" textLength="43.7" lengthAdjust="spacingAndGlyphs" stroke="#000" stroke-width="0.5"><tspan font-style="italic">&#945;</tspan><tspan font-weight="bold">=0.8</tspan></text>
<line x1="806.0" y1="23.1" x2="831.0" y2="23.1" stroke="#0000ff" stroke-width="5.8"/>
<text x="834.1" y="31.8" font-family="Liberation Serif" font-size="22.3" textLength="43.7" lengthAdjust="spacingAndGlyphs" stroke="#000" stroke-width="0.5"><tspan font-style="italic">&#945;</tspan><tspan font-weight="bold">=0.9</tspan></text>
<line x1="882.8" y1="23.1" x2="907.6" y2="23.1" stroke="#00ffff" stroke-width="5.8"/>
<text x="910.9" y="31.8" font-family="Liberation Serif" font-size="22.3" textLength="29.5" lengthAdjust="spacingAndGlyphs" stroke="#000" stroke-width="0.5"><tspan font-style="italic">&#945;</tspan><tspan font-weight="bold">=1</tspan></text>
<text transform="translate(749.3,540.9) scale(0.840,1) skewX(-10.0)" font-family="Liberation Serif" font-size="26.3" font-weight="bold" font-style="italic" text-anchor="start" fill="#000" stroke="#000" stroke-width="0.60">S</text>
<text transform="translate(761.0,552.8) scale(0.780,1) skewX(-10.0)" font-family="Liberation Serif" font-size="20.0" font-weight="bold" font-style="italic" text-anchor="start" fill="#000" stroke="#000" stroke-width="0.60">2</text>
<text transform="translate(730.7,603.4) scale(0.925,1)" font-family="Liberation Serif" font-size="31.8" font-weight="normal" font-style="normal" text-anchor="start" fill="#000" stroke="#000" stroke-width="0.60">(b)</text>
<text transform="translate(511.7,249.6) scale(0.950,1) rotate(-90) skewX(-10.0)" font-family="Liberation Serif" font-size="22.0" font-weight="bold" font-style="italic" text-anchor="middle" fill="#000" stroke="#000" stroke-width="0.60">T</text>
<line x1="404.1" y1="658.2" x2="404.1" y2="1273.7" stroke="#e3e3e3" stroke-width="1"/><line x1="513.3" y1="658.2" x2="513.3" y2="1273.7" stroke="#e3e3e3" stroke-width="1"/><line x1="622.5" y1="658.2" x2="622.5" y2="1273.7" stroke="#e3e3e3" stroke-width="1"/><line x1="295.0" y1="1119.8" x2="731.6" y2="1119.8" stroke="#e3e3e3" stroke-width="1"/><line x1="295.0" y1="966.0" x2="731.6" y2="966.0" stroke="#e3e3e3" stroke-width="1"/><line x1="295.0" y1="812.1" x2="731.6" y2="812.1" stroke="#e3e3e3" stroke-width="1"/>
<line x1="295.00" y1="658.20" x2="731.60" y2="658.20" stroke="#1c1c1c" stroke-width="1.90" stroke-linecap="square"/><line x1="295.00" y1="1273.70" x2="731.60" y2="1273.70" stroke="#1c1c1c" stroke-width="1.90" stroke-linecap="square"/><line x1="295.00" y1="658.20" x2="295.00" y2="1273.70" stroke="#1c1c1c" stroke-width="1.60"/><line x1="731.60" y1="658.20" x2="731.60" y2="1273.70" stroke="#1c1c1c" stroke-width="1.60"/><line x1="295.00" y1="1273.70" x2="295.00" y2="1269.00" stroke="#1c1c1c" stroke-width="1.60"/><line x1="295.00" y1="658.20" x2="295.00" y2="662.90" stroke="#1c1c1c" stroke-width="1.60"/><line x1="404.15" y1="1273.70" x2="404.15" y2="1269.00" stroke="#1c1c1c" stroke-width="1.60"/><line x1="404.15" y1="658.20" x2="404.15" y2="662.90" stroke="#1c1c1c" stroke-width="1.60"/><line x1="513.30" y1="1273.70" x2="513.30" y2="1269.00" stroke="#1c1c1c" stroke-width="1.60"/><line x1="513.30" y1="658.20" x2="513.30" y2="662.90" stroke="#1c1c1c" stroke-width="1.60"/><line x1="622.45" y1="1273.70" x2="622.45" y2="1269.00" stroke="#1c1c1c" stroke-width="1.60"/><line x1="622.45" y1="658.20" x2="622.45" y2="662.90" stroke="#1c1c1c" stroke-width="1.60"/><line x1="731.60" y1="1273.70" x2="731.60" y2="1269.00" stroke="#1c1c1c" stroke-width="1.60"/><line x1="731.60" y1="658.20" x2="731.60" y2="662.90" stroke="#1c1c1c" stroke-width="1.60"/><line x1="295.00" y1="1273.70" x2="299.70" y2="1273.70" stroke="#1c1c1c" stroke-width="1.90"/><line x1="731.60" y1="1273.70" x2="726.90" y2="1273.70" stroke="#1c1c1c" stroke-width="1.90"/><line x1="295.00" y1="1119.83" x2="299.70" y2="1119.83" stroke="#1c1c1c" stroke-width="1.90"/><line x1="731.60" y1="1119.83" x2="726.90" y2="1119.83" stroke="#1c1c1c" stroke-width="1.90"/><line x1="295.00" y1="965.95" x2="299.70" y2="965.95" stroke="#1c1c1c" stroke-width="1.90"/><line x1="731.60" y1="965.95" x2="726.90" y2="965.95" stroke="#1c1c1c" stroke-width="1.90"/><line x1="295.00" y1="812.08" x2="299.70" y2="812.08" stroke="#1c1c1c" stroke-width="1.90"/><line x1="731.60" y1="812.08" x2="726.90" y2="812.08" stroke="#1c1c1c" stroke-width="1.90"/><line x1="295.00" y1="658.20" x2="299.70" y2="658.20" stroke="#1c1c1c" stroke-width="1.90"/><line x1="731.60" y1="658.20" x2="726.90" y2="658.20" stroke="#1c1c1c" stroke-width="1.90"/>
<g>
<path transform="scale(0.7500,1)" d="M538.01,657.50L536.91,659.08L535.76,660.69L534.58,662.33L533.37,663.99L532.16,665.68L530.95,667.39L529.76,669.12L528.59,670.87L527.48,672.65L526.41,674.44L525.42,676.25L524.51,678.07L523.70,679.92L523.00,681.77L522.42,683.64L521.97,685.53L521.65,687.42L521.46,689.32L521.38,691.23L521.41,693.14L521.55,695.06L521.78,696.98L522.11,698.89L522.53,700.81L523.04,702.72L523.62,704.63L524.27,706.52L524.99,708.41L525.78,710.29L526.61,712.15L527.50,714.00L528.43,715.84L529.40,717.65L530.40,719.45L531.43,721.22L532.49,722.97L533.56,724.70L534.67,726.41L535.79,728.10L536.94,729.76L538.11,731.41L539.30,733.04L540.51,734.64L541.74,736.23L542.99,737.80L544.26,739.36L545.55,740.89L546.86,742.41L548.18,743.92L549.52,745.40L550.88,746.88L552.25,748.33L553.64,749.78L555.04,751.20L556.46,752.62L557.89,754.02L559.33,755.41L560.79,756.79L562.25,758.16L563.73,759.51L565.22,760.86L566.72,762.19L568.23,763.52L569.75,764.83L571.27,766.14L572.81,767.44L574.35,768.73L575.90,770.01L577.45,771.29L579.01,772.56L580.58,773.83L582.15,775.08L583.72,776.34L585.30,777.59L586.88,778.83L588.46,780.08L590.05,781.32L591.64,782.55L593.22,783.79L594.81,785.02L596.41,786.24L598.00,787.47L599.60,788.69L601.19,789.90L602.79,791.12L604.39,792.33L606.00,793.54L607.60,794.75L609.21,795.95L610.81,797.16L612.42,798.35L614.03,799.55L615.64,800.75L617.26,801.94L618.87,803.13L620.49,804.31L622.11,805.50L623.73,806.68L625.35,807.86L626.97,809.04L628.59,810.22L630.22,811.39L631.84,812.56L633.47,813.73L635.10,814.90L636.73,816.07L638.36,817.23L639.99,818.39L641.62,819.55L643.26,820.71L644.89,821.87L646.53,823.03L648.16,824.18L649.80,825.33L651.44,826.48L653.08,827.63L654.72,828.78L656.36,829.93L658.00,831.08L659.65,832.22L661.29,833.36L662.93,834.51L664.58,835.65L666.23,836.79L667.87,837.93L669.52,839.06L671.17,840.20L672.82,841.34L674.47,842.47L676.12,843.61L677.77,844.74L679.42,845.87L681.07,847.01L682.72,848.14L684.37,849.27L686.02,850.40L687.68,851.53L689.33,852.66L690.98,853.79L692.64,854.92L694.29,856.05L695.95,857.17L697.60,858.30L699.25,859.43L700.91,860.56L702.56,861.69L704.22,862.81L705.87,863.94L707.53,865.07L709.18,866.20L710.84,867.33L712.49,868.45L714.15,869.58L715.80,870.71L717.46,871.84L719.11,872.97L720.77,874.10L722.42,875.23L724.08,876.36L725.73,877.49L727.39,878.62L729.04,879.76L730.69,880.89L732.35,882.02L734.00,883.16L735.65,884.29L737.30,885.43L738.95,886.57L740.60,887.71L742.25,888.85L743.90,889.99L745.55,891.13L747.20,892.27L748.85,893.41L750.50,894.56L752.14,895.71L753.79,896.85L755.43,898.00L757.08,899.15L758.72,900.30L760.37,901.46L762.01,902.61L763.65,903.77L765.29,904.93L766.93,906.09L768.57,907.25L770.21,908.41L771.84,909.58L773.48,910.74L775.11,911.91L776.75,913.08L778.38,914.26L780.01,915.43L781.64,916.61L783.27,917.79L784.90,918.97L786.53,920.15L788.15,921.34L789.78,922.52L791.40,923.71L793.02,924.91L794.64,926.10L796.26,927.30L797.88,928.50L799.50,929.70L801.11,930.91L802.72,932.12L804.33,933.33L805.94,934.55L807.54,935.76L809.14,936.99L810.74,938.21L812.34,939.44L813.93,940.68L815.52,941.91L817.11,943.15L818.69,944.40L820.27,945.65L821.84,946.90L823.41,948.16L824.98,949.42L826.54,950.69L828.10,951.96L829.65,953.24L831.20,954.52L832.74,955.81L834.28,957.10L835.81,958.40L837.34,959.70L838.87,961.01L840.38,962.33L841.89,963.65L843.40,964.97L844.90,966.31L846.39,967.64L847.88,968.99L849.36,970.34L850.83,971.70L852.30,973.06L853.75,974.43L855.21,975.81L856.65,977.19L858.09,978.58L859.52,979.98L860.94,981.38L862.36,982.80L863.76,984.22L865.16,985.64L866.55,987.08L867.93,988.52L869.31,989.97L870.67,991.43L872.03,992.90L873.37,994.37L874.71,995.86L876.04,997.35L877.36,998.85L878.67,1000.36L879.97,1001.88L881.25,1003.40L882.53,1004.94L883.80,1006.48L885.06,1008.04L886.31,1009.60L887.55,1011.17L888.77,1012.75L889.99,1014.34L891.20,1015.94L892.39,1017.56L893.57,1019.18L894.74,1020.81L895.90,1022.45L897.05,1024.10L898.18,1025.76L899.31,1027.43L900.41,1029.12L901.51,1030.81L902.58,1032.52L903.64,1034.23L904.67,1035.96L905.68,1037.70L906.67,1039.45L907.63,1041.22L908.56,1043.00L909.46,1044.79L910.33,1046.59L911.16,1048.40L911.96,1050.23L912.72,1052.07L913.45,1053.93L914.13,1055.80L914.77,1057.69L915.37,1059.58L915.92,1061.50L916.42,1063.43L916.88,1065.37L917.28,1067.33L917.63,1069.30L917.93,1071.29L918.16,1073.30L918.34,1075.32L918.47,1077.36L918.53,1079.41L918.53,1081.46L918.48,1083.53L918.36,1085.59L918.19,1087.65L917.96,1089.71L917.68,1091.75L917.34,1093.79L916.94,1095.80L916.48,1097.80L915.97,1099.78L915.40,1101.72L914.78,1103.64L914.11,1105.54L913.38,1107.40L912.60,1109.24L911.77,1111.06L910.90,1112.84L909.97,1114.60L909.00,1116.33L907.99,1118.03L906.93,1119.71L905.83,1121.36L904.69,1122.98L903.51,1124.58L902.30,1126.15L901.04,1127.69L899.75,1129.21L898.42,1130.70L897.06,1132.17L895.67,1133.60L894.25,1135.02L892.80,1136.40L891.32,1137.76L889.81,1139.10L888.28,1140.41L886.72,1141.69L885.14,1142.94L883.54,1144.18L881.91,1145.38L880.27,1146.56L878.61,1147.71L876.93,1148.84L875.24,1149.95L873.53,1151.03L871.81,1152.08L870.07,1153.11L868.33,1154.11L866.57,1155.09L864.81,1156.05L863.03,1156.98L861.25,1157.90L859.46,1158.79L857.66,1159.67L855.86,1160.53L854.05,1161.38L852.23,1162.21L850.40,1163.03L848.57,1163.84L846.74,1164.64L844.90,1165.42L843.06,1166.21L841.22,1166.98L839.37,1167.75L837.52,1168.51L835.67,1169.28L833.82,1170.04L831.97,1170.80L830.11,1171.56L828.26,1172.32L826.41,1173.09L824.56,1173.86L822.71,1174.63L820.87,1175.42L819.03,1176.21L817.19,1177.01L815.35,1177.82L813.52,1178.64L811.70,1179.48L809.88,1180.33L808.06,1181.20L806.26,1182.08L804.45,1182.99L802.66,1183.91L800.88,1184.85L799.10,1185.81L797.33,1186.80L799.40,1186.38L801.47,1185.96L803.53,1185.56L805.60,1185.15L807.67,1184.76L809.74,1184.36L811.81,1183.98L813.89,1183.59L815.96,1183.21L818.03,1182.84L820.11,1182.46L822.18,1182.09L824.26,1181.73L826.33,1181.36L828.41,1180.99L830.48,1180.63L832.56,1180.27L834.63,1179.91L836.71,1179.54L838.79,1179.18L840.86,1178.82L842.94,1178.46L845.01,1178.09L847.09,1177.72L849.16,1177.35L851.24,1176.98L853.31,1176.60L855.38,1176.23L857.46,1175.84L859.53,1175.46L861.60,1175.06L863.67,1174.67L865.74,1174.27L867.80,1173.86L869.87,1173.45L871.94,1173.03L874.00,1172.60" fill="none" stroke="#000000" stroke-width="7.30" stroke-linejoin="round" stroke-linecap="butt"/>
<path transform="scale(0.7500,1)" d="M538.01,657.50L536.88,659.08L535.70,660.68L534.49,662.29L533.26,663.93L532.01,665.58L530.77,667.25L529.54,668.93L528.34,670.64L527.17,672.37L526.05,674.12L525.00,675.88L524.02,677.67L523.13,679.48L522.33,681.32L521.65,683.17L521.08,685.05L520.64,686.94L520.31,688.86L520.09,690.79L519.97,692.74L519.95,694.69L520.03,696.65L520.20,698.62L520.45,700.59L520.79,702.56L521.20,704.53L521.68,706.49L522.23,708.45L522.84,710.40L523.51,712.33L524.23,714.26L525.00,716.16L525.81,718.04L526.66,719.90L527.54,721.74L528.45,723.55L529.39,725.34L530.37,727.11L531.37,728.85L532.40,730.57L533.46,732.27L534.55,733.94L535.66,735.60L536.80,737.23L537.96,738.85L539.15,740.44L540.36,742.02L541.60,743.58L542.85,745.12L544.13,746.65L545.43,748.15L546.75,749.65L548.08,751.12L549.44,752.58L550.81,754.03L552.20,755.46L553.61,756.88L555.03,758.29L556.46,759.68L557.91,761.07L559.38,762.44L560.85,763.80L562.34,765.15L563.84,766.49L565.34,767.82L566.86,769.15L568.39,770.46L569.92,771.77L571.46,773.07L573.01,774.37L574.56,775.65L576.12,776.94L577.68,778.22L579.25,779.49L580.82,780.76L582.39,782.03L583.96,783.29L585.54,784.55L587.12,785.81L588.70,787.06L590.28,788.31L591.87,789.56L593.45,790.81L595.04,792.05L596.63,793.29L598.23,794.52L599.82,795.75L601.42,796.98L603.02,798.21L604.62,799.43L606.23,800.65L607.83,801.87L609.44,803.09L611.05,804.30L612.66,805.51L614.27,806.72L615.88,807.93L617.50,809.13L619.11,810.33L620.73,811.53L622.35,812.73L623.97,813.92L625.60,815.12L627.22,816.31L628.85,817.50L630.47,818.68L632.10,819.87L633.73,821.05L635.36,822.23L636.99,823.41L638.62,824.59L640.26,825.77L641.89,826.94L643.52,828.12L645.16,829.29L646.80,830.46L648.44,831.63L650.07,832.80L651.71,833.97L653.35,835.13L654.99,836.30L656.63,837.46L658.28,838.62L659.92,839.79L661.56,840.95L663.20,842.11L664.85,843.27L666.49,844.42L668.14,845.58L669.78,846.74L671.43,847.90L673.07,849.05L674.72,850.21L676.36,851.36L678.01,852.52L679.65,853.67L681.30,854.83L682.95,855.98L684.59,857.14L686.24,858.29L687.88,859.44L689.53,860.60L691.17,861.75L692.82,862.91L694.46,864.06L696.10,865.21L697.75,866.37L699.39,867.52L701.03,868.68L702.68,869.83L704.32,870.99L705.96,872.15L707.60,873.31L709.24,874.46L710.88,875.62L712.52,876.78L714.15,877.94L715.79,879.10L717.43,880.26L719.06,881.43L720.70,882.59L722.33,883.76L723.96,884.92L725.59,886.09L727.22,887.26L728.85,888.43L730.48,889.60L732.11,890.77L733.73,891.95L735.35,893.12L736.98,894.30L738.60,895.48L740.22,896.66L741.84,897.84L743.45,899.02L745.07,900.21L746.68,901.40L748.29,902.59L749.90,903.78L751.51,904.97L753.12,906.17L754.72,907.36L756.33,908.56L757.93,909.77L759.53,910.97L761.12,912.18L762.72,913.39L764.31,914.60L765.91,915.81L767.49,917.03L769.08,918.25L770.67,919.47L772.25,920.69L773.83,921.92L775.41,923.15L776.98,924.38L778.56,925.62L780.13,926.86L781.70,928.10L783.26,929.34L784.83,930.59L786.39,931.84L787.95,933.10L789.50,934.35L791.05,935.62L792.60,936.88L794.15,938.15L795.70,939.42L797.24,940.69L798.78,941.97L800.31,943.26L801.84,944.54L803.37,945.83L804.90,947.12L806.42,948.42L807.95,949.72L809.46,951.03L810.98,952.34L812.49,953.65L813.99,954.97L815.50,956.29L817.00,957.62L818.49,958.95L819.98,960.29L821.47,961.64L822.95,962.99L824.43,964.34L825.90,965.71L827.37,967.08L828.83,968.45L830.28,969.83L831.73,971.22L833.18,972.62L834.62,974.02L836.05,975.43L837.48,976.85L838.90,978.28L840.31,979.72L841.72,981.16L843.12,982.62L844.51,984.08L845.90,985.55L847.27,987.03L848.64,988.52L850.01,990.02L851.36,991.53L852.71,993.05L854.05,994.58L855.38,996.13L856.70,997.68L858.01,999.24L859.32,1000.82L860.61,1002.40L861.89,1004.00L863.17,1005.61L864.42,1007.23L865.66,1008.87L866.88,1010.51L868.09,1012.17L869.27,1013.84L870.43,1015.52L871.57,1017.21L872.68,1018.92L873.77,1020.63L874.83,1022.36L875.86,1024.11L876.85,1025.86L877.82,1027.63L878.75,1029.41L879.65,1031.21L880.50,1033.02L881.32,1034.84L882.10,1036.67L882.84,1038.52L883.54,1040.38L884.19,1042.25L884.79,1044.14L885.35,1046.04L885.85,1047.96L886.31,1049.89L886.72,1051.83L887.07,1053.78L887.37,1055.75L887.62,1057.73L887.82,1059.71L887.97,1061.71L888.07,1063.71L888.12,1065.71L888.12,1067.72L888.07,1069.73L887.98,1071.75L887.83,1073.76L887.65,1075.77L887.41,1077.78L887.13,1079.78L886.80,1081.78L886.43,1083.77L886.01,1085.76L885.55,1087.74L885.04,1089.70L884.49,1091.65L883.90,1093.60L883.26,1095.52L882.58,1097.43L881.86,1099.33L881.10,1101.20L880.30,1103.06L879.46,1104.90L878.58,1106.71L877.65,1108.50L876.69,1110.27L875.69,1112.01L874.65,1113.73L873.58,1115.41L872.47,1117.07L871.32,1118.69L870.13,1120.29L868.91,1121.85L867.65,1123.37L866.36,1124.87L865.03,1126.33L863.68,1127.77L862.29,1129.17L860.87,1130.54L859.42,1131.89L857.95,1133.20L856.44,1134.49L854.91,1135.76L853.36,1136.99L851.78,1138.20L850.17,1139.39L848.54,1140.55L846.90,1141.70L845.23,1142.81L843.54,1143.91L841.83,1144.98L840.10,1146.04L838.36,1147.08L836.60,1148.09L834.83,1149.09L833.04,1150.07L831.24,1151.03L829.43,1151.98L827.60,1152.92L825.77,1153.83L823.92,1154.74L822.07,1155.63L820.21,1156.50L818.35,1157.37L816.47,1158.22L814.60,1159.07L812.72,1159.90L810.84,1160.73L808.95,1161.54L807.07,1162.35L805.18,1163.15L803.30,1163.95L801.42,1164.74L799.54,1165.52L797.66,1166.30L795.79,1167.08L793.93,1167.85L792.06,1168.61L790.20,1169.38L788.34,1170.14L786.49,1170.89L784.63,1171.64L782.78,1172.39L780.93,1173.13L779.09,1173.87L777.24,1174.61L775.40,1175.34L773.55,1176.07L771.71,1176.80L769.87,1177.52L768.02,1178.24L766.18,1178.96L764.34,1179.67L762.50,1180.38L760.65,1181.09L758.81,1181.79L756.97,1182.50L755.12,1183.19L753.27,1183.89L751.42,1184.59L749.57,1185.28L747.72,1185.97L745.86,1186.65L744.01,1187.34L742.14,1188.02L740.28,1188.70L738.41,1189.38L736.54,1190.05L734.67,1190.73L732.79,1191.40L730.91,1192.07L729.02,1192.74L727.13,1193.40L725.23,1194.07L723.33,1194.73L721.43,1195.39L719.52,1196.05L717.60,1196.71L715.68,1197.37L713.75,1198.03L711.81,1198.69L709.87,1199.34L707.92,1200.00L705.96,1200.65L704.00,1201.30L705.96,1200.74L707.93,1200.19L709.89,1199.64L711.86,1199.11L713.83,1198.58L715.80,1198.06L717.77,1197.55L719.75,1197.05L721.72,1196.55L723.70,1196.06L725.68,1195.59L727.66,1195.11L729.64,1194.65L731.62,1194.19L733.60,1193.74L735.59,1193.30L737.57,1192.87L739.56,1192.44L741.55,1192.01L743.54,1191.60L745.53,1191.19L747.52,1190.78L749.51,1190.39L751.50,1189.99L753.50,1189.61L755.49,1189.23L757.49,1188.85L759.49,1188.48L761.48,1188.11L763.48,1187.75L765.48,1187.40L767.48,1187.04L769.49,1186.70L771.49,1186.35L773.49,1186.01L775.49,1185.68L777.50,1185.35L779.50,1185.02L781.51,1184.69L783.52,1184.37L785.52,1184.05L787.53,1183.74L789.54,1183.43L791.55,1183.12L793.55,1182.81L795.56,1182.51L797.57,1182.20L799.58,1181.90L801.59,1181.61L803.60,1181.31L805.62,1181.01L807.63,1180.72L809.64,1180.43L811.65,1180.14L813.66,1179.85L815.68,1179.56L817.69,1179.27L819.70,1178.98L821.71,1178.70L823.73,1178.41L825.74,1178.12L827.75,1177.84L829.76,1177.55L831.78,1177.26L833.79,1176.97L835.80,1176.69L837.81,1176.40L839.83,1176.11L841.84,1175.82L843.85,1175.52L845.86,1175.23L847.87,1174.93L849.88,1174.64L851.90,1174.34L853.91,1174.04L855.92,1173.73L857.93,1173.43L859.94,1173.12L861.94,1172.81L863.95,1172.50L865.96,1172.18L867.97,1171.86L869.98,1171.54L871.98,1171.21L873.99,1170.88L875.99,1170.55L878.00,1170.21L880.00,1169.87L882.00,1169.53L884.01,1169.18L886.01,1168.83L888.01,1168.47L890.01,1168.10L892.01,1167.74L894.01,1167.36L896.00,1166.99L898.00,1166.60" fill="none" stroke="#ff0000" stroke-width="7.30" stroke-linejoin="round" stroke-linecap="butt"/>
<path transform="scale(0.7500,1)" d="M538.01,657.50L536.70,659.03L535.40,660.58L534.12,662.15L532.85,663.75L531.60,665.38L530.39,667.03L529.21,668.70L528.07,670.40L526.97,672.12L525.93,673.86L524.94,675.63L524.01,677.42L523.16,679.23L522.37,681.06L521.66,682.92L521.04,684.80L520.49,686.69L520.03,688.61L519.66,690.54L519.35,692.48L519.13,694.43L518.98,696.40L518.91,698.37L518.91,700.34L518.98,702.31L519.12,704.29L519.33,706.26L519.61,708.22L519.95,710.18L520.35,712.13L520.82,714.07L521.34,715.99L521.93,717.90L522.57,719.78L523.27,721.65L524.02,723.50L524.82,725.32L525.67,727.13L526.57,728.92L527.52,730.68L528.51,732.43L529.54,734.16L530.61,735.88L531.71,737.57L532.86,739.25L534.03,740.91L535.24,742.55L536.48,744.18L537.74,745.79L539.03,747.39L540.34,748.97L541.67,750.54L543.02,752.09L544.39,753.63L545.77,755.15L547.16,756.67L548.57,758.16L549.98,759.65L551.40,761.13L552.83,762.59L554.26,764.04L555.70,765.48L557.14,766.91L558.59,768.33L560.04,769.74L561.50,771.14L562.97,772.53L564.44,773.91L565.91,775.28L567.39,776.64L568.87,777.99L570.36,779.34L571.86,780.68L573.35,782.01L574.86,783.33L576.36,784.64L577.87,785.95L579.39,787.25L580.91,788.55L582.43,789.84L583.96,791.12L585.49,792.40L587.03,793.67L588.57,794.94L590.11,796.20L591.65,797.46L593.20,798.71L594.76,799.96L596.31,801.21L597.87,802.45L599.44,803.70L601.00,804.93L602.57,806.17L604.14,807.40L605.72,808.62L607.30,809.85L608.88,811.07L610.46,812.29L612.05,813.51L613.63,814.72L615.23,815.93L616.82,817.14L618.42,818.34L620.01,819.55L621.62,820.75L623.22,821.94L624.82,823.14L626.43,824.33L628.04,825.53L629.65,826.71L631.27,827.90L632.88,829.09L634.50,830.27L636.12,831.45L637.74,832.63L639.36,833.81L640.98,834.99L642.61,836.16L644.24,837.34L645.86,838.51L647.49,839.68L649.12,840.85L650.76,842.02L652.39,843.19L654.02,844.36L655.66,845.52L657.30,846.69L658.93,847.85L660.57,849.02L662.21,850.18L663.85,851.34L665.49,852.50L667.13,853.66L668.77,854.82L670.41,855.99L672.05,857.15L673.70,858.31L675.34,859.47L676.98,860.63L678.62,861.79L680.27,862.95L681.91,864.11L683.55,865.27L685.20,866.43L686.84,867.59L688.48,868.75L690.12,869.91L691.76,871.08L693.41,872.24L695.05,873.40L696.69,874.57L698.33,875.73L699.97,876.90L701.60,878.07L703.24,879.24L704.88,880.41L706.51,881.58L708.15,882.75L709.78,883.92L711.41,885.10L713.05,886.28L714.68,887.45L716.30,888.63L717.93,889.82L719.56,891.00L721.18,892.18L722.81,893.37L724.43,894.56L726.05,895.75L727.67,896.94L729.28,898.14L730.90,899.34L732.51,900.54L734.12,901.74L735.73,902.94L737.33,904.15L738.94,905.36L740.54,906.57L742.14,907.79L743.74,909.01L745.33,910.23L746.93,911.45L748.52,912.68L750.10,913.91L751.69,915.14L753.27,916.38L754.85,917.62L756.43,918.86L758.00,920.11L759.57,921.36L761.14,922.61L762.70,923.87L764.26,925.13L765.82,926.40L767.38,927.66L768.93,928.94L770.47,930.21L772.02,931.49L773.56,932.78L775.10,934.07L776.63,935.36L778.16,936.66L779.69,937.96L781.21,939.27L782.73,940.58L784.24,941.89L785.75,943.21L787.26,944.54L788.76,945.87L790.26,947.20L791.75,948.54L793.24,949.89L794.73,951.24L796.21,952.59L797.69,953.95L799.16,955.32L800.62,956.69L802.09,958.07L803.54,959.45L805.00,960.84L806.44,962.23L807.89,963.63L809.32,965.03L810.76,966.44L812.18,967.86L813.61,969.28L815.02,970.71L816.43,972.15L817.84,973.59L819.24,975.03L820.64,976.49L822.02,977.95L823.41,979.42L824.78,980.89L826.15,982.37L827.50,983.87L828.85,985.37L830.18,986.88L831.50,988.39L832.81,989.92L834.10,991.46L835.38,993.01L836.64,994.58L837.89,996.15L839.12,997.74L840.33,999.33L841.52,1000.95L842.69,1002.57L843.84,1004.21L844.97,1005.86L846.07,1007.53L847.15,1009.21L848.21,1010.91L849.24,1012.62L850.25,1014.36L851.23,1016.10L852.18,1017.87L853.10,1019.65L853.99,1021.45L854.85,1023.27L855.68,1025.11L856.48,1026.96L857.25,1028.84L857.98,1030.73L858.67,1032.64L859.33,1034.56L859.95,1036.49L860.53,1038.44L861.07,1040.40L861.56,1042.36L862.02,1044.34L862.43,1046.32L862.80,1048.31L863.12,1050.31L863.40,1052.31L863.62,1054.31L863.80,1056.31L863.93,1058.31L864.00,1060.31L864.02,1062.31L863.99,1064.30L863.91,1066.30L863.76,1068.28L863.56,1070.26L863.30,1072.23L862.99,1074.19L862.61,1076.14L862.17,1078.08L861.67,1080.00L861.12,1081.92L860.51,1083.82L859.84,1085.70L859.13,1087.57L858.36,1089.43L857.54,1091.27L856.68,1093.09L855.77,1094.90L854.81,1096.68L853.81,1098.45L852.77,1100.20L851.70,1101.93L850.58,1103.64L849.42,1105.32L848.23,1106.99L847.01,1108.63L845.76,1110.24L844.47,1111.84L843.15,1113.40L841.81,1114.95L840.44,1116.46L839.05,1117.95L837.64,1119.41L836.20,1120.85L834.74,1122.25L833.27,1123.63L831.78,1124.98L830.26,1126.30L828.73,1127.60L827.19,1128.88L825.62,1130.13L824.04,1131.36L822.45,1132.56L820.84,1133.75L819.22,1134.91L817.58,1136.06L815.93,1137.18L814.27,1138.29L812.59,1139.38L810.90,1140.45L809.21,1141.51L807.50,1142.55L805.79,1143.58L804.06,1144.59L802.33,1145.60L800.58,1146.59L798.84,1147.57L797.08,1148.54L795.32,1149.50L793.55,1150.45L791.78,1151.39L790.00,1152.33L788.22,1153.26L786.44,1154.18L784.65,1155.10L782.86,1156.02L781.07,1156.93L779.28,1157.84L777.48,1158.74L775.68,1159.63L773.88,1160.52L772.08,1161.41L770.27,1162.29L768.46,1163.17L766.65,1164.04L764.83,1164.91L763.01,1165.77L761.19,1166.62L759.37,1167.47L757.55,1168.31L755.72,1169.15L753.89,1169.99L752.05,1170.81L750.22,1171.63L748.38,1172.45L746.54,1173.26L744.70,1174.06L742.85,1174.86L741.01,1175.65L739.15,1176.44L737.30,1177.22L735.45,1177.99L733.59,1178.76L731.73,1179.52L729.87,1180.27L728.00,1181.02L726.13,1181.76L724.26,1182.50L722.39,1183.23L720.52,1183.95L718.64,1184.66L716.76,1185.37L714.88,1186.07L712.99,1186.76L711.11,1187.45L709.22,1188.13L707.33,1188.80L705.43,1189.47L703.54,1190.13L701.64,1190.78L699.74,1191.42L697.83,1192.05L695.93,1192.68L694.02,1193.30L692.11,1193.92L690.20,1194.52L688.28,1195.12L686.36,1195.71L684.44,1196.29L682.52,1196.86L680.60,1197.43L678.67,1197.99L676.74,1198.54L674.81,1199.08L672.88,1199.61L670.94,1200.13L669.00,1200.65L667.06,1201.16L665.12,1201.66L663.18,1202.15L661.23,1202.63L659.28,1203.11L657.33,1203.58L655.38,1204.04L653.42,1204.49L651.47,1204.94L649.51,1205.38L647.55,1205.82L645.59,1206.25L643.63,1206.68L641.67,1207.10L639.70,1207.52L637.74,1207.93L635.77,1208.34L633.81,1208.75L631.84,1209.15L629.87,1209.56L627.90,1209.96L625.93,1210.35L623.97,1210.75L622.00,1211.14L620.03,1211.54L618.05,1211.93L616.08,1212.32L614.11,1212.72L612.14,1213.11L610.17,1213.51L608.20,1213.90L606.24,1214.30L604.27,1214.70L602.30,1215.10L600.33,1215.50L598.36,1215.91L596.40,1216.32L594.43,1216.73L592.47,1217.15L590.51,1217.57L588.54,1217.99L586.58,1218.42L584.62,1218.86L582.67,1219.30L584.61,1218.79L586.56,1218.28L588.51,1217.76L590.46,1217.25L592.41,1216.73L594.35,1216.21L596.30,1215.68L598.25,1215.16L600.20,1214.63L602.14,1214.10L604.09,1213.57L606.04,1213.04L607.99,1212.51L609.93,1211.97L611.88,1211.44L613.83,1210.90L615.78,1210.37L617.72,1209.83L619.67,1209.30L621.62,1208.76L623.57,1208.23L625.52,1207.69L627.47,1207.16L629.42,1206.63L631.37,1206.10L633.32,1205.56L635.27,1205.04L637.22,1204.51L639.17,1203.98L641.12,1203.46L643.08,1202.94L645.03,1202.42L646.98,1201.90L648.94,1201.39L650.89,1200.88L652.85,1200.37L654.80,1199.87L656.76,1199.37L658.72,1198.87L660.67,1198.38L662.63,1197.89L664.59,1197.40L666.55,1196.92L668.51,1196.44L670.48,1195.97L672.44,1195.51L674.40,1195.04L676.37,1194.59L678.33,1194.13L680.30,1193.69L682.26,1193.24L684.23,1192.81L686.20,1192.38L688.17,1191.95L690.14,1191.53L692.11,1191.11L694.09,1190.70L696.06,1190.30L698.03,1189.90L700.01,1189.51L701.99,1189.12L703.96,1188.74L705.94,1188.37L707.92,1188.00L709.90,1187.64L711.88,1187.28L713.87,1186.93L715.85,1186.59L717.83,1186.25L719.82,1185.92L721.81,1185.60L723.80,1185.29L725.79,1184.98L727.78,1184.67L729.77,1184.38L731.76,1184.09L733.76,1183.81L735.75,1183.53L737.75,1183.27L739.74,1183.00L741.74,1182.75L743.74,1182.49L745.74,1182.25L747.74,1182.00L749.74,1181.77L751.75,1181.53L753.75,1181.30L755.75,1181.07L757.76,1180.85L759.76,1180.63L761.76,1180.41L763.77,1180.19L765.77,1179.97L767.78,1179.76L769.79,1179.55L771.79,1179.34L773.80,1179.13L775.81,1178.92L777.81,1178.71L779.82,1178.50L781.83,1178.30L783.84,1178.09L785.84,1177.89L787.85,1177.69L789.86,1177.48L791.87,1177.28L793.88,1177.08L795.88,1176.88L797.89,1176.68L799.90,1176.48L801.91,1176.28L803.92,1176.08L805.93,1175.88L807.94,1175.69L809.95,1175.49L811.96,1175.29L813.97,1175.09L815.98,1174.90L817.98,1174.70L819.99,1174.50L822.00,1174.30L824.01,1174.10L826.02,1173.91L828.03,1173.71L830.04,1173.51L832.05,1173.31L834.06,1173.11L836.07,1172.91L838.08,1172.71L840.09,1172.50L842.09,1172.30L844.10,1172.10L846.11,1171.90L848.12,1171.69L850.13,1171.48L852.14,1171.28L854.15,1171.07L856.15,1170.86L858.16,1170.65L860.17,1170.44L862.18,1170.23L864.18,1170.01L866.19,1169.80L868.20,1169.58L870.20,1169.36L872.21,1169.14L874.21,1168.92L876.22,1168.70L878.23,1168.47L880.23,1168.25L882.24,1168.02L884.24,1167.79L886.24,1167.55L888.25,1167.32L890.25,1167.08L892.25,1166.84L894.26,1166.60L896.26,1166.36L898.26,1166.11L900.26,1165.87L902.26,1165.62L904.27,1165.36L906.27,1165.11L908.27,1164.85L910.27,1164.59" fill="none" stroke="#0000ff" stroke-width="7.30" stroke-linejoin="round" stroke-linecap="butt"/>
<path transform="scale(0.7500,1)" d="M538.00,657.50L536.83,659.06L535.62,660.63L534.37,662.20L533.09,663.78L531.81,665.38L530.52,666.98L529.24,668.60L527.98,670.23L526.74,671.89L525.54,673.56L524.39,675.26L523.30,676.97L522.28,678.72L521.34,680.49L520.49,682.30L519.74,684.13L519.09,686.00L518.54,687.90L518.08,689.82L517.72,691.76L517.45,693.73L517.26,695.71L517.15,697.71L517.12,699.71L517.17,701.73L517.28,703.75L517.46,705.77L517.71,707.79L518.02,709.81L518.38,711.82L518.79,713.82L519.26,715.81L519.76,717.78L520.32,719.74L520.91,721.67L521.53,723.59L522.20,725.48L522.89,727.35L523.63,729.21L524.40,731.04L525.20,732.85L526.03,734.65L526.90,736.42L527.80,738.18L528.73,739.92L529.69,741.64L530.67,743.34L531.69,745.03L532.74,746.70L533.81,748.35L534.91,749.99L536.03,751.61L537.18,753.22L538.35,754.81L539.55,756.38L540.77,757.94L542.02,759.49L543.28,761.03L544.56,762.55L545.87,764.05L547.19,765.55L548.54,767.03L549.90,768.50L551.28,769.96L552.67,771.41L554.08,772.84L555.51,774.27L556.95,775.69L558.40,777.09L559.87,778.49L561.35,779.87L562.84,781.25L564.34,782.62L565.86,783.98L567.38,785.33L568.91,786.68L570.45,788.02L571.99,789.35L573.54,790.67L575.10,791.99L576.67,793.31L578.23,794.61L579.81,795.91L581.38,797.21L582.96,798.50L584.54,799.79L586.12,801.08L587.70,802.36L589.28,803.63L590.86,804.91L592.45,806.18L594.03,807.44L595.62,808.71L597.21,809.97L598.79,811.22L600.38,812.48L601.97,813.73L603.56,814.97L605.15,816.22L606.74,817.46L608.34,818.69L609.93,819.93L611.52,821.16L613.12,822.39L614.71,823.62L616.31,824.84L617.91,826.06L619.50,827.28L621.10,828.50L622.70,829.71L624.30,830.93L625.90,832.14L627.50,833.34L629.10,834.55L630.71,835.76L632.31,836.96L633.91,838.16L635.51,839.36L637.12,840.55L638.72,841.75L640.33,842.94L641.93,844.13L643.54,845.33L645.14,846.51L646.75,847.70L648.36,848.89L649.96,850.08L651.57,851.26L653.18,852.44L654.79,853.63L656.40,854.81L658.01,855.99L659.61,857.17L661.22,858.35L662.83,859.53L664.44,860.71L666.05,861.88L667.66,863.06L669.27,864.24L670.88,865.41L672.49,866.59L674.11,867.77L675.72,868.94L677.33,870.12L678.94,871.30L680.55,872.47L682.16,873.65L683.77,874.83L685.38,876.00L686.99,877.18L688.60,878.36L690.22,879.54L691.83,880.71L693.44,881.89L695.05,883.07L696.66,884.26L698.27,885.44L699.88,886.62L701.49,887.80L703.10,888.99L704.71,890.18L706.32,891.36L707.93,892.55L709.54,893.74L711.15,894.93L712.75,896.13L714.36,897.32L715.97,898.51L717.58,899.71L719.19,900.91L720.79,902.11L722.40,903.32L724.00,904.52L725.61,905.73L727.21,906.94L728.82,908.15L730.42,909.36L732.02,910.58L733.61,911.80L735.21,913.02L736.80,914.25L738.39,915.48L739.98,916.71L741.57,917.95L743.15,919.19L744.73,920.44L746.31,921.68L747.89,922.94L749.46,924.19L751.03,925.45L752.59,926.72L754.15,927.99L755.71,929.26L757.26,930.54L758.81,931.83L760.35,933.11L761.89,934.41L763.43,935.71L764.96,937.02L766.48,938.33L768.00,939.64L769.51,940.97L771.02,942.30L772.53,943.63L774.02,944.97L775.51,946.32L777.00,947.67L778.48,949.04L779.95,950.40L781.41,951.78L782.87,953.16L784.32,954.55L785.77,955.95L787.20,957.35L788.63,958.76L790.05,960.18L791.47,961.61L792.87,963.05L794.27,964.49L795.66,965.94L797.04,967.40L798.41,968.87L799.78,970.35L801.13,971.84L802.48,973.33L803.81,974.84L805.14,976.35L806.46,977.87L807.77,979.40L809.06,980.95L810.35,982.50L811.63,984.06L812.90,985.63L814.15,987.21L815.40,988.81L816.63,990.41L817.86,992.02L819.07,993.65L820.27,995.28L821.46,996.93L822.64,998.58L823.81,1000.25L824.97,1001.93L826.11,1003.62L827.23,1005.32L828.34,1007.03L829.43,1008.76L830.50,1010.49L831.54,1012.24L832.56,1014.00L833.56,1015.76L834.52,1017.54L835.46,1019.33L836.36,1021.13L837.23,1022.94L838.06,1024.76L838.86,1026.59L839.62,1028.43L840.33,1030.28L841.00,1032.14L841.63,1034.02L842.21,1035.90L842.74,1037.79L843.23,1039.69L843.66,1041.60L844.03,1043.52L844.35,1045.45L844.61,1047.40L844.82,1049.35L844.96,1051.31L845.04,1053.27L845.06,1055.25L845.02,1057.23L844.92,1059.21L844.77,1061.20L844.56,1063.19L844.30,1065.17L843.98,1067.16L843.61,1069.14L843.19,1071.11L842.71,1073.08L842.19,1075.04L841.62,1076.99L841.00,1078.92L840.33,1080.85L839.61,1082.76L838.86,1084.65L838.05,1086.53L837.21,1088.38L836.32,1090.22L835.39,1092.04L834.43,1093.83L833.42,1095.59L832.37,1097.33L831.29,1099.04L830.17,1100.72L829.02,1102.37L827.83,1103.99L826.62,1105.58L825.36,1107.15L824.08,1108.68L822.77,1110.19L821.43,1111.67L820.06,1113.13L818.66,1114.56L817.24,1115.96L815.79,1117.35L814.32,1118.70L812.83,1120.04L811.31,1121.36L809.78,1122.65L808.22,1123.92L806.65,1125.17L805.05,1126.41L803.44,1127.62L801.82,1128.82L800.18,1130.00L798.52,1131.16L796.85,1132.31L795.17,1133.44L793.48,1134.56L791.78,1135.66L790.07,1136.75L788.36,1137.83L786.63,1138.90L784.90,1139.95L783.17,1140.99L781.43,1142.02L779.68,1143.05L777.93,1144.06L776.18,1145.06L774.42,1146.05L772.66,1147.03L770.90,1148.01L769.13,1148.97L767.35,1149.92L765.58,1150.87L763.80,1151.80L762.01,1152.73L760.22,1153.64L758.43,1154.55L756.63,1155.45L754.83,1156.34L753.03,1157.22L751.22,1158.09L749.41,1158.95L747.60,1159.81L745.78,1160.65L743.96,1161.49L742.14,1162.32L740.31,1163.14L738.48,1163.96L736.65,1164.77L734.81,1165.57L732.97,1166.36L731.13,1167.14L729.29,1167.92L727.44,1168.69L725.59,1169.45L723.74,1170.21L721.89,1170.96L720.03,1171.70L718.17,1172.43L716.30,1173.16L714.44,1173.88L712.57,1174.60L710.70,1175.31L708.83,1176.01L706.95,1176.70L705.07,1177.39L703.19,1178.07L701.31,1178.75L699.43,1179.42L697.54,1180.08L695.65,1180.74L693.76,1181.39L691.87,1182.04L689.97,1182.68L688.07,1183.31L686.17,1183.94L684.27,1184.57L682.37,1185.18L680.46,1185.80L678.55,1186.40L676.64,1187.01L674.73,1187.60L672.82,1188.19L670.90,1188.78L668.99,1189.36L667.07,1189.94L665.15,1190.51L663.22,1191.08L661.30,1191.64L659.37,1192.20L657.45,1192.75L655.52,1193.30L653.59,1193.84L651.65,1194.38L649.72,1194.92L647.79,1195.45L645.85,1195.98L643.91,1196.50L641.97,1197.02L640.03,1197.54L638.09,1198.05L636.15,1198.56L634.20,1199.06L632.26,1199.56L630.31,1200.06L628.36,1200.55L626.41,1201.05L624.46,1201.53L622.51,1202.02L620.56,1202.50L618.61,1202.98L616.65,1203.45L614.70,1203.92L612.74,1204.39L610.78,1204.86L608.83,1205.32L606.87,1205.78L604.91,1206.24L602.95,1206.70L600.99,1207.15L599.02,1207.60L597.06,1208.05L595.10,1208.50L593.14,1208.94L591.17,1209.38L589.21,1209.83L587.24,1210.26L585.28,1210.70L583.31,1211.14L581.35,1211.57L579.38,1212.00L577.41,1212.43L575.44,1212.86L573.48,1213.29L571.51,1213.71L569.54,1214.14L567.57,1214.56L565.60,1214.99L563.64,1215.41L561.67,1215.83L559.70,1216.25L557.73,1216.67L555.76,1217.09L553.79,1217.50L551.82,1217.92L549.85,1218.34L547.89,1218.75L545.92,1219.17L543.95,1219.58L541.98,1220.00L540.01,1220.42L538.05,1220.83L536.08,1221.25L534.11,1221.66L532.15,1222.08L530.18,1222.49L528.21,1222.91L526.25,1223.32L524.28,1223.74L522.32,1224.15L520.35,1224.56L518.39,1224.98L516.42,1225.39L514.46,1225.79L512.49,1226.20L510.53,1226.61L508.56,1227.01L506.60,1227.41L504.63,1227.81L502.67,1228.20L500.70,1228.60L498.74,1228.99L496.77,1229.37L494.80,1229.76L492.84,1230.13L490.87,1230.51L488.90,1230.88L486.93,1231.25L484.96,1231.61L482.99,1231.97L481.02,1232.32L479.05,1232.67L477.08,1233.01L475.10,1233.35L473.13,1233.68L471.15,1234.00L469.18,1234.32L467.20,1234.63L465.22,1234.94L463.24,1235.24L461.26,1235.53L459.28,1235.81L457.30,1236.09L455.32,1236.36L453.33,1236.62L451.35,1236.88L449.36,1237.13L447.37,1237.36L445.38,1237.59L443.39,1237.81L441.39,1238.03L439.40,1238.23L437.40,1238.42L435.40,1238.61L433.40,1238.78L431.40,1238.95L429.40,1239.10L427.39,1239.24L425.38,1239.38L423.37,1239.50L421.36,1239.61L419.35,1239.71L417.33,1239.80L419.28,1239.28L421.22,1238.77L423.17,1238.26L425.11,1237.75L427.06,1237.24L429.01,1236.74L430.95,1236.24L432.90,1235.74L434.85,1235.25L436.80,1234.76L438.75,1234.27L440.70,1233.78L442.65,1233.29L444.60,1232.81L446.55,1232.33L448.51,1231.85L450.46,1231.38L452.41,1230.90L454.37,1230.43L456.32,1229.96L458.28,1229.50L460.23,1229.03L462.19,1228.57L464.15,1228.11L466.10,1227.65L468.06,1227.19L470.02,1226.74L471.98,1226.29L473.94,1225.83L475.89,1225.39L477.85,1224.94L479.81,1224.49L481.77,1224.05L483.74,1223.60L485.70,1223.16L487.66,1222.72L489.62,1222.29L491.58,1221.85L493.54,1221.42L495.51,1220.98L497.47,1220.55L499.43,1220.12L501.40,1219.69L503.36,1219.26L505.33,1218.84L507.29,1218.41L509.26,1217.99L511.22,1217.56L513.19,1217.14L515.15,1216.72L517.12,1216.30L519.09,1215.88L521.05,1215.47L523.02,1215.05L524.99,1214.63L526.96,1214.22L528.92,1213.81L530.89,1213.39L532.86,1212.98L534.83,1212.57L536.80,1212.16L538.76,1211.75L540.73,1211.34L542.70,1210.93L544.67,1210.52L546.64,1210.11L548.61,1209.71L550.58,1209.30L552.55,1208.89L554.52,1208.49L556.49,1208.08L558.46,1207.68L560.43,1207.27L562.40,1206.87L564.37,1206.46L566.34,1206.06L568.31,1205.65L570.28,1205.25L572.25,1204.84L574.22,1204.44L576.19,1204.04L578.16,1203.63L580.13,1203.23L582.11,1202.82L584.08,1202.42L586.05,1202.02L588.02,1201.61L589.99,1201.21L591.96,1200.80L593.93,1200.40L595.90,1199.99L597.87,1199.59L599.84,1199.18L601.81,1198.77L603.78,1198.36L605.75,1197.96L607.72,1197.55L609.69,1197.14L611.66,1196.73L613.63,1196.33L615.61,1195.92L617.58,1195.51L619.55,1195.10L621.52,1194.70L623.49,1194.29L625.46,1193.89L627.43,1193.48L629.40,1193.08L631.37,1192.67L633.34,1192.27L635.31,1191.87L637.29,1191.47L639.26,1191.07L641.23,1190.67L643.20,1190.27L645.17,1189.88L647.15,1189.48L649.12,1189.09L651.09,1188.70L653.07,1188.31L655.04,1187.93L657.01,1187.54L658.99,1187.16L660.96,1186.78L662.94,1186.40L664.91,1186.02L666.89,1185.65L668.86,1185.28L670.84,1184.91L672.81,1184.54L674.79,1184.18L676.77,1183.81L678.75,1183.46L680.72,1183.10L682.70,1182.75L684.68,1182.40L686.66,1182.05L688.64,1181.71L690.62,1181.37L692.60,1181.03L694.58,1180.70L696.56,1180.37L698.55,1180.05L700.53,1179.73L702.51,1179.41L704.50,1179.10L706.48,1178.79L708.47,1178.48L710.45,1178.18L712.44,1177.88L714.43,1177.59L716.41,1177.30L718.40,1177.02L720.39,1176.74L722.38,1176.47L724.37,1176.20L726.36,1175.93L728.35,1175.67L730.34,1175.42L732.34,1175.17L734.33,1174.93L736.33,1174.69L738.32,1174.45L740.32,1174.22L742.31,1173.99L744.31,1173.77L746.31,1173.56L748.30,1173.34L750.30,1173.13L752.30,1172.93L754.30,1172.73L756.30,1172.54L758.30,1172.34L760.30,1172.16L762.30,1171.97L764.31,1171.79L766.31,1171.62L768.31,1171.45L770.32,1171.28L772.32,1171.11L774.32,1170.95L776.33,1170.80L778.33,1170.64L780.34,1170.49L782.34,1170.35L784.35,1170.20L786.35,1170.06L788.36,1169.93L790.37,1169.79L792.37,1169.66L794.38,1169.53L796.39,1169.41L798.40,1169.29L800.40,1169.17L802.41,1169.05L804.42,1168.94L806.43,1168.83L808.44,1168.72L810.45,1168.61L812.46,1168.51L814.46,1168.41L816.47,1168.31L818.48,1168.22L820.49,1168.12L822.50,1168.03L824.51,1167.94L826.52,1167.85L828.53,1167.77L830.54,1167.69L832.55,1167.60L834.56,1167.53L836.57,1167.45L838.58,1167.37L840.58,1167.30L842.59,1167.22L844.60,1167.15L846.61,1167.08L848.62,1167.02L850.63,1166.95L852.64,1166.88L854.65,1166.82L856.65,1166.76L858.66,1166.69L860.67,1166.63L862.68,1166.57L864.68,1166.50L866.69,1166.44L868.70,1166.37L870.70,1166.30L872.71,1166.23L874.72,1166.16L876.72,1166.08L878.73,1166.00L880.74,1165.91L882.74,1165.82L884.75,1165.72L886.75,1165.62L888.76,1165.52L890.76,1165.40L892.77,1165.28L894.77,1165.15L896.77,1165.02L898.78,1164.87L900.78,1164.72L902.79,1164.56L904.79,1164.39L906.79,1164.21L908.80,1164.02L910.80,1163.82L912.80,1163.60" fill="none" stroke="#00ffff" stroke-width="7.30" stroke-linejoin="round" stroke-linecap="butt"/>
</g>
<text transform="translate(287.3,1286.0) scale(0.645,1)" font-family="Liberation Serif" font-size="33.3" font-weight="bold" font-style="normal" text-anchor="end" fill="#000" stroke="#000" stroke-width="0.60">0</text>
<text transform="translate(287.3,1132.1) scale(0.645,1)" font-family="Liberation Serif" font-size="33.3" font-weight="bold" font-style="normal" text-anchor="end" fill="#000" stroke="#000" stroke-width="0.60">50</text>
<text transform="translate(287.3,978.2) scale(0.645,1)" font-family="Liberation Serif" font-size="33.3" font-weight="bold" font-style="normal" text-anchor="end" fill="#000" stroke="#000" stroke-width="0.60">100</text>
<text transform="translate(287.3,824.4) scale(0.645,1)" font-family="Liberation Serif" font-size="33.3" font-weight="bold" font-style="normal" text-anchor="end" fill="#000" stroke="#000" stroke-width="0.60">150</text>
<text transform="translate(287.3,670.5) scale(0.645,1)" font-family="Liberation Serif" font-size="33.3" font-weight="bold" font-style="normal" text-anchor="end" fill="#000" stroke="#000" stroke-width="0.60">200</text>
<text transform="translate(295.0,1314.8) scale(0.645,1)" font-family="Liberation Serif" font-size="33.3" font-weight="bold" font-style="normal" text-anchor="middle" fill="#000" stroke="#000" stroke-width="0.60">200</text>
<text transform="translate(404.1,1314.8) scale(0.645,1)" font-family="Liberation Serif" font-size="33.3" font-weight="bold" font-style="normal" text-anchor="middle" fill="#000" stroke="#000" stroke-width="0.60">300</text>
<text transform="translate(513.3,1314.8) scale(0.645,1)" font-family="Liberation Serif" font-size="33.3" font-weight="bold" font-style="normal" text-anchor="middle" fill="#000" stroke="#000" stroke-width="0.60">400</text>
<text transform="translate(622.5,1314.8) scale(0.645,1)" font-family="Liberation Serif" font-size="33.3" font-weight="bold" font-style="normal" text-anchor="middle" fill="#000" stroke="#000" stroke-width="0.60">500</text>
<text transform="translate(731.6,1314.8) scale(0.645,1)" font-family="Liberation Serif" font-size="33.3" font-weight="bold" font-style="normal" text-anchor="middle" fill="#000" stroke="#000" stroke-width="0.60">600</text>
<rect x="405.2" y="671.9" width="329.4" height="39.2" fill="#fff" stroke="#000" stroke-width="1.5"/>
<line x1="409.3" y1="691.2" x2="436.8" y2="691.2" stroke="#000000" stroke-width="7.0"/>
<text x="440.5" y="702.6" font-family="Liberation Serif" font-size="30.5" textLength="48.3" lengthAdjust="spacingAndGlyphs" stroke="#000" stroke-width="0.5"><tspan font-style="italic">&#945;</tspan><tspan font-weight="bold">=0.7</tspan></text>
<line x1="494.4" y1="691.2" x2="522.0" y2="691.2" stroke="#ff0000" stroke-width="7.0"/>
<text x="525.8" y="702.6" font-family="Liberation Serif" font-size="30.5" textLength="48.3" lengthAdjust="spacingAndGlyphs" stroke="#000" stroke-width="0.5"><tspan font-style="italic">&#945;</tspan><tspan font-weight="bold">=0.8</tspan></text>
<line x1="580.2" y1="691.2" x2="607.7" y2="691.2" stroke="#0000ff" stroke-width="7.0"/>
<text x="611.2" y="702.6" font-family="Liberation Serif" font-size="30.5" textLength="48.9" lengthAdjust="spacingAndGlyphs" stroke="#000" stroke-width="0.5"><tspan font-style="italic">&#945;</tspan><tspan font-weight="bold">=0.9</tspan></text>
<line x1="665.1" y1="691.2" x2="693.0" y2="691.2" stroke="#00ffff" stroke-width="7.0"/>
<text x="696.3" y="702.6" font-family="Liberation Serif" font-size="30.5" textLength="32.9" lengthAdjust="spacingAndGlyphs" stroke="#000" stroke-width="0.5"><tspan font-style="italic">&#945;</tspan><tspan font-weight="bold">=1</tspan></text>
<text transform="translate(501.8,1356.0) scale(0.690,1) skewX(-10.0)" font-family="Liberation Serif" font-size="35.0" font-weight="bold" font-style="italic" text-anchor="start" fill="#000" stroke="#000" stroke-width="0.60">S</text>
<text transform="translate(515.0,1370.5) scale(0.620,1) skewX(-10.0)" font-family="Liberation Serif" font-size="27.0" font-weight="bold" font-style="italic" text-anchor="start" fill="#000" stroke="#000" stroke-width="0.60">2</text>
<text transform="translate(486.2,1423.0) scale(0.950,1)" font-family="Liberation Serif" font-size="31.7" font-weight="normal" font-style="normal" text-anchor="start" fill="#000" stroke="#000" stroke-width="0.60">(c)</text>
<text transform="translate(246.9,968.0) scale(0.680,1) rotate(-90) skewX(-6.0)" font-family="Liberation Serif" font-size="33.4" font-weight="bold" font-style="italic" text-anchor="middle" fill="#000" stroke="#000" stroke-width="0.60">R</text>
</svg></body></html>
